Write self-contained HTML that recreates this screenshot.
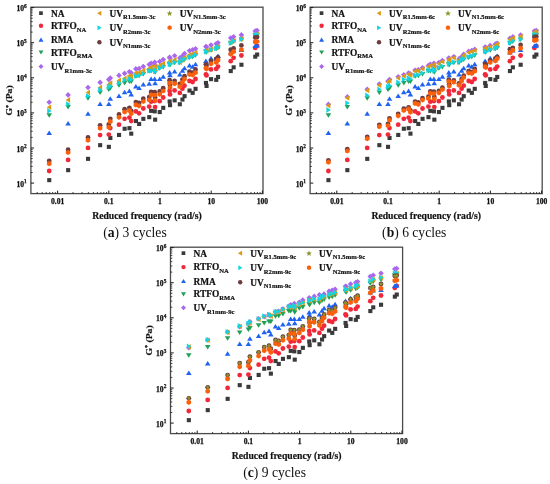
<!DOCTYPE html>
<html><head><meta charset="utf-8"><style>
html,body{margin:0;padding:0;background:#fff;}
svg{display:block;filter:blur(0.2px);}
text{font-family:"Liberation Serif",serif;fill:#111;}
.tl{font-size:7.6px;font-weight:bold;stroke:#111;stroke-width:0.25px;}
.sup{font-size:5.3px;}
.sup2{font-size:6px;}
.al{font-size:9.7px;font-weight:bold;stroke:#111;stroke-width:0.2px;}
.lg{font-size:9.4px;font-weight:bold;stroke:#111;stroke-width:0.2px;}
.sub{font-size:6.6px;}
.cap{font-size:13.6px;}
</style></head><body>
<svg width="550" height="484" viewBox="0 0 550 484">
<rect width="550" height="484" fill="#fff"/>
<g transform="translate(0,0)">
<rect x="30.9" y="7.2" width="232.1" height="186.4" fill="none" stroke="#4a4a4a" stroke-width="1.3"/>
<line x1="30.9" y1="183.1" x2="34.1" y2="183.1" stroke="#1a1a1a" stroke-width="1"/>
<line x1="30.9" y1="172.5" x2="32.7" y2="172.5" stroke="#1a1a1a" stroke-width="0.8"/>
<line x1="30.9" y1="166.4" x2="32.7" y2="166.4" stroke="#1a1a1a" stroke-width="0.8"/>
<line x1="30.9" y1="162.0" x2="32.7" y2="162.0" stroke="#1a1a1a" stroke-width="0.8"/>
<line x1="30.9" y1="158.6" x2="32.7" y2="158.6" stroke="#1a1a1a" stroke-width="0.8"/>
<line x1="30.9" y1="155.8" x2="32.7" y2="155.8" stroke="#1a1a1a" stroke-width="0.8"/>
<line x1="30.9" y1="153.4" x2="32.7" y2="153.4" stroke="#1a1a1a" stroke-width="0.8"/>
<line x1="30.9" y1="151.4" x2="32.7" y2="151.4" stroke="#1a1a1a" stroke-width="0.8"/>
<line x1="30.9" y1="149.6" x2="32.7" y2="149.6" stroke="#1a1a1a" stroke-width="0.8"/>
<text x="26.7" y="186.6" text-anchor="end" class="tl">10<tspan dy="-3.3" class="sup">1</tspan></text>
<line x1="30.9" y1="148.0" x2="34.1" y2="148.0" stroke="#1a1a1a" stroke-width="1"/>
<line x1="30.9" y1="137.4" x2="32.7" y2="137.4" stroke="#1a1a1a" stroke-width="0.8"/>
<line x1="30.9" y1="131.3" x2="32.7" y2="131.3" stroke="#1a1a1a" stroke-width="0.8"/>
<line x1="30.9" y1="126.9" x2="32.7" y2="126.9" stroke="#1a1a1a" stroke-width="0.8"/>
<line x1="30.9" y1="123.5" x2="32.7" y2="123.5" stroke="#1a1a1a" stroke-width="0.8"/>
<line x1="30.9" y1="120.7" x2="32.7" y2="120.7" stroke="#1a1a1a" stroke-width="0.8"/>
<line x1="30.9" y1="118.3" x2="32.7" y2="118.3" stroke="#1a1a1a" stroke-width="0.8"/>
<line x1="30.9" y1="116.3" x2="32.7" y2="116.3" stroke="#1a1a1a" stroke-width="0.8"/>
<line x1="30.9" y1="114.5" x2="32.7" y2="114.5" stroke="#1a1a1a" stroke-width="0.8"/>
<text x="26.7" y="151.5" text-anchor="end" class="tl">10<tspan dy="-3.3" class="sup">2</tspan></text>
<line x1="30.9" y1="112.9" x2="34.1" y2="112.9" stroke="#1a1a1a" stroke-width="1"/>
<line x1="30.9" y1="102.3" x2="32.7" y2="102.3" stroke="#1a1a1a" stroke-width="0.8"/>
<line x1="30.9" y1="96.2" x2="32.7" y2="96.2" stroke="#1a1a1a" stroke-width="0.8"/>
<line x1="30.9" y1="91.8" x2="32.7" y2="91.8" stroke="#1a1a1a" stroke-width="0.8"/>
<line x1="30.9" y1="88.4" x2="32.7" y2="88.4" stroke="#1a1a1a" stroke-width="0.8"/>
<line x1="30.9" y1="85.6" x2="32.7" y2="85.6" stroke="#1a1a1a" stroke-width="0.8"/>
<line x1="30.9" y1="83.2" x2="32.7" y2="83.2" stroke="#1a1a1a" stroke-width="0.8"/>
<line x1="30.9" y1="81.2" x2="32.7" y2="81.2" stroke="#1a1a1a" stroke-width="0.8"/>
<line x1="30.9" y1="79.4" x2="32.7" y2="79.4" stroke="#1a1a1a" stroke-width="0.8"/>
<text x="26.7" y="116.4" text-anchor="end" class="tl">10<tspan dy="-3.3" class="sup">3</tspan></text>
<line x1="30.9" y1="77.8" x2="34.1" y2="77.8" stroke="#1a1a1a" stroke-width="1"/>
<line x1="30.9" y1="67.2" x2="32.7" y2="67.2" stroke="#1a1a1a" stroke-width="0.8"/>
<line x1="30.9" y1="61.1" x2="32.7" y2="61.1" stroke="#1a1a1a" stroke-width="0.8"/>
<line x1="30.9" y1="56.7" x2="32.7" y2="56.7" stroke="#1a1a1a" stroke-width="0.8"/>
<line x1="30.9" y1="53.3" x2="32.7" y2="53.3" stroke="#1a1a1a" stroke-width="0.8"/>
<line x1="30.9" y1="50.5" x2="32.7" y2="50.5" stroke="#1a1a1a" stroke-width="0.8"/>
<line x1="30.9" y1="48.1" x2="32.7" y2="48.1" stroke="#1a1a1a" stroke-width="0.8"/>
<line x1="30.9" y1="46.1" x2="32.7" y2="46.1" stroke="#1a1a1a" stroke-width="0.8"/>
<line x1="30.9" y1="44.3" x2="32.7" y2="44.3" stroke="#1a1a1a" stroke-width="0.8"/>
<text x="26.7" y="81.3" text-anchor="end" class="tl">10<tspan dy="-3.3" class="sup">4</tspan></text>
<line x1="30.9" y1="42.7" x2="34.1" y2="42.7" stroke="#1a1a1a" stroke-width="1"/>
<line x1="30.9" y1="32.1" x2="32.7" y2="32.1" stroke="#1a1a1a" stroke-width="0.8"/>
<line x1="30.9" y1="26.0" x2="32.7" y2="26.0" stroke="#1a1a1a" stroke-width="0.8"/>
<line x1="30.9" y1="21.6" x2="32.7" y2="21.6" stroke="#1a1a1a" stroke-width="0.8"/>
<line x1="30.9" y1="18.2" x2="32.7" y2="18.2" stroke="#1a1a1a" stroke-width="0.8"/>
<line x1="30.9" y1="15.4" x2="32.7" y2="15.4" stroke="#1a1a1a" stroke-width="0.8"/>
<line x1="30.9" y1="13.0" x2="32.7" y2="13.0" stroke="#1a1a1a" stroke-width="0.8"/>
<line x1="30.9" y1="11.0" x2="32.7" y2="11.0" stroke="#1a1a1a" stroke-width="0.8"/>
<line x1="30.9" y1="9.2" x2="32.7" y2="9.2" stroke="#1a1a1a" stroke-width="0.8"/>
<text x="26.7" y="46.2" text-anchor="end" class="tl">10<tspan dy="-3.3" class="sup">5</tspan></text>
<line x1="30.9" y1="7.6" x2="34.1" y2="7.6" stroke="#1a1a1a" stroke-width="1"/>
<text x="26.7" y="11.1" text-anchor="end" class="tl">10<tspan dy="-3.3" class="sup">6</tspan></text>
<line x1="37.2" y1="193.6" x2="37.2" y2="192.0" stroke="#1a1a1a" stroke-width="0.8"/>
<line x1="42.2" y1="193.6" x2="42.2" y2="192.0" stroke="#1a1a1a" stroke-width="0.8"/>
<line x1="46.2" y1="193.6" x2="46.2" y2="192.0" stroke="#1a1a1a" stroke-width="0.8"/>
<line x1="49.7" y1="193.6" x2="49.7" y2="192.0" stroke="#1a1a1a" stroke-width="0.8"/>
<line x1="52.6" y1="193.6" x2="52.6" y2="192.0" stroke="#1a1a1a" stroke-width="0.8"/>
<line x1="55.3" y1="193.6" x2="55.3" y2="192.0" stroke="#1a1a1a" stroke-width="0.8"/>
<line x1="57.6" y1="193.6" x2="57.6" y2="190.6" stroke="#1a1a1a" stroke-width="1"/>
<line x1="73.0" y1="193.6" x2="73.0" y2="192.0" stroke="#1a1a1a" stroke-width="0.8"/>
<line x1="82.0" y1="193.6" x2="82.0" y2="192.0" stroke="#1a1a1a" stroke-width="0.8"/>
<line x1="88.4" y1="193.6" x2="88.4" y2="192.0" stroke="#1a1a1a" stroke-width="0.8"/>
<line x1="93.4" y1="193.6" x2="93.4" y2="192.0" stroke="#1a1a1a" stroke-width="0.8"/>
<line x1="97.4" y1="193.6" x2="97.4" y2="192.0" stroke="#1a1a1a" stroke-width="0.8"/>
<line x1="100.9" y1="193.6" x2="100.9" y2="192.0" stroke="#1a1a1a" stroke-width="0.8"/>
<line x1="103.8" y1="193.6" x2="103.8" y2="192.0" stroke="#1a1a1a" stroke-width="0.8"/>
<line x1="106.5" y1="193.6" x2="106.5" y2="192.0" stroke="#1a1a1a" stroke-width="0.8"/>
<line x1="108.8" y1="193.6" x2="108.8" y2="190.6" stroke="#1a1a1a" stroke-width="1"/>
<line x1="124.2" y1="193.6" x2="124.2" y2="192.0" stroke="#1a1a1a" stroke-width="0.8"/>
<line x1="133.2" y1="193.6" x2="133.2" y2="192.0" stroke="#1a1a1a" stroke-width="0.8"/>
<line x1="139.6" y1="193.6" x2="139.6" y2="192.0" stroke="#1a1a1a" stroke-width="0.8"/>
<line x1="144.6" y1="193.6" x2="144.6" y2="192.0" stroke="#1a1a1a" stroke-width="0.8"/>
<line x1="148.6" y1="193.6" x2="148.6" y2="192.0" stroke="#1a1a1a" stroke-width="0.8"/>
<line x1="152.1" y1="193.6" x2="152.1" y2="192.0" stroke="#1a1a1a" stroke-width="0.8"/>
<line x1="155.0" y1="193.6" x2="155.0" y2="192.0" stroke="#1a1a1a" stroke-width="0.8"/>
<line x1="157.7" y1="193.6" x2="157.7" y2="192.0" stroke="#1a1a1a" stroke-width="0.8"/>
<line x1="160.0" y1="193.6" x2="160.0" y2="190.6" stroke="#1a1a1a" stroke-width="1"/>
<line x1="175.4" y1="193.6" x2="175.4" y2="192.0" stroke="#1a1a1a" stroke-width="0.8"/>
<line x1="184.4" y1="193.6" x2="184.4" y2="192.0" stroke="#1a1a1a" stroke-width="0.8"/>
<line x1="190.8" y1="193.6" x2="190.8" y2="192.0" stroke="#1a1a1a" stroke-width="0.8"/>
<line x1="195.8" y1="193.6" x2="195.8" y2="192.0" stroke="#1a1a1a" stroke-width="0.8"/>
<line x1="199.8" y1="193.6" x2="199.8" y2="192.0" stroke="#1a1a1a" stroke-width="0.8"/>
<line x1="203.3" y1="193.6" x2="203.3" y2="192.0" stroke="#1a1a1a" stroke-width="0.8"/>
<line x1="206.2" y1="193.6" x2="206.2" y2="192.0" stroke="#1a1a1a" stroke-width="0.8"/>
<line x1="208.9" y1="193.6" x2="208.9" y2="192.0" stroke="#1a1a1a" stroke-width="0.8"/>
<line x1="211.2" y1="193.6" x2="211.2" y2="190.6" stroke="#1a1a1a" stroke-width="1"/>
<line x1="226.6" y1="193.6" x2="226.6" y2="192.0" stroke="#1a1a1a" stroke-width="0.8"/>
<line x1="235.6" y1="193.6" x2="235.6" y2="192.0" stroke="#1a1a1a" stroke-width="0.8"/>
<line x1="242.0" y1="193.6" x2="242.0" y2="192.0" stroke="#1a1a1a" stroke-width="0.8"/>
<line x1="247.0" y1="193.6" x2="247.0" y2="192.0" stroke="#1a1a1a" stroke-width="0.8"/>
<line x1="251.0" y1="193.6" x2="251.0" y2="192.0" stroke="#1a1a1a" stroke-width="0.8"/>
<line x1="254.5" y1="193.6" x2="254.5" y2="192.0" stroke="#1a1a1a" stroke-width="0.8"/>
<line x1="257.4" y1="193.6" x2="257.4" y2="192.0" stroke="#1a1a1a" stroke-width="0.8"/>
<line x1="260.1" y1="193.6" x2="260.1" y2="192.0" stroke="#1a1a1a" stroke-width="0.8"/>
<line x1="262.4" y1="193.6" x2="262.4" y2="190.6" stroke="#1a1a1a" stroke-width="1"/>
<text x="57.6" y="204.2" text-anchor="middle" class="tl">0.01</text>
<text x="108.8" y="204.2" text-anchor="middle" class="tl">0.1</text>
<text x="160.0" y="204.2" text-anchor="middle" class="tl">1</text>
<text x="211.2" y="204.2" text-anchor="middle" class="tl">10</text>
<text x="262.4" y="204.2" text-anchor="middle" class="tl">100</text>
<text x="147" y="219.0" text-anchor="middle" class="al">Reduced frequency (rad/s)</text>
<text transform="translate(12.3,100.4) rotate(-90) scale(1,0.84)" text-anchor="middle" class="al">G<tspan dy="-3.2" class="sup2">*</tspan><tspan dy="3.2"> (Pa)</tspan></text>
<rect x="47.2" y="178.1" width="4.1" height="4.1" fill="#3a3a3a"/>
<rect x="66.1" y="168.1" width="4.1" height="4.1" fill="#3a3a3a"/>
<rect x="86.0" y="156.8" width="4.1" height="4.1" fill="#3a3a3a"/>
<rect x="98.1" y="143.1" width="4.1" height="4.1" fill="#3a3a3a"/>
<rect x="106.8" y="144.8" width="4.1" height="4.1" fill="#3a3a3a"/>
<rect x="108.3" y="135.9" width="4.1" height="4.1" fill="#3a3a3a"/>
<rect x="117.0" y="132.9" width="4.1" height="4.1" fill="#3a3a3a"/>
<rect x="122.6" y="126.7" width="4.1" height="4.1" fill="#3a3a3a"/>
<rect x="127.4" y="126.1" width="4.1" height="4.1" fill="#3a3a3a"/>
<rect x="129.2" y="131.6" width="4.1" height="4.1" fill="#3a3a3a"/>
<rect x="133.9" y="119.0" width="4.1" height="4.1" fill="#3a3a3a"/>
<rect x="137.1" y="121.9" width="4.1" height="4.1" fill="#3a3a3a"/>
<rect x="141.3" y="116.8" width="4.1" height="4.1" fill="#3a3a3a"/>
<rect x="147.2" y="115.1" width="4.1" height="4.1" fill="#3a3a3a"/>
<rect x="149.1" y="108.8" width="4.1" height="4.1" fill="#3a3a3a"/>
<rect x="152.7" y="109.3" width="4.1" height="4.1" fill="#3a3a3a"/>
<rect x="153.1" y="117.6" width="4.1" height="4.1" fill="#3a3a3a"/>
<rect x="157.7" y="110.0" width="4.1" height="4.1" fill="#3a3a3a"/>
<rect x="161.2" y="105.8" width="4.1" height="4.1" fill="#3a3a3a"/>
<rect x="167.6" y="99.4" width="4.1" height="4.1" fill="#3a3a3a"/>
<rect x="168.0" y="103.1" width="4.1" height="4.1" fill="#3a3a3a"/>
<rect x="172.6" y="98.3" width="4.1" height="4.1" fill="#3a3a3a"/>
<rect x="177.8" y="102.2" width="4.1" height="4.1" fill="#3a3a3a"/>
<rect x="180.4" y="97.5" width="4.1" height="4.1" fill="#3a3a3a"/>
<rect x="182.5" y="94.1" width="4.1" height="4.1" fill="#3a3a3a"/>
<rect x="187.5" y="88.5" width="4.1" height="4.1" fill="#3a3a3a"/>
<rect x="190.6" y="90.8" width="4.1" height="4.1" fill="#3a3a3a"/>
<rect x="193.5" y="86.8" width="4.1" height="4.1" fill="#3a3a3a"/>
<rect x="203.9" y="80.9" width="4.1" height="4.1" fill="#3a3a3a"/>
<rect x="204.5" y="83.9" width="4.1" height="4.1" fill="#3a3a3a"/>
<rect x="209.0" y="77.1" width="4.1" height="4.1" fill="#3a3a3a"/>
<rect x="214.2" y="77.8" width="4.1" height="4.1" fill="#3a3a3a"/>
<rect x="216.0" y="74.9" width="4.1" height="4.1" fill="#3a3a3a"/>
<rect x="228.7" y="69.0" width="4.1" height="4.1" fill="#3a3a3a"/>
<rect x="231.6" y="65.3" width="4.1" height="4.1" fill="#3a3a3a"/>
<rect x="239.4" y="62.7" width="4.1" height="4.1" fill="#3a3a3a"/>
<rect x="253.2" y="54.6" width="4.1" height="4.1" fill="#3a3a3a"/>
<rect x="255.1" y="52.5" width="4.1" height="4.1" fill="#3a3a3a"/>
<circle cx="49.2" cy="171.0" r="2.4" fill="#f0283a"/>
<circle cx="68.1" cy="159.9" r="2.4" fill="#f0283a"/>
<circle cx="88.0" cy="147.9" r="2.4" fill="#f0283a"/>
<circle cx="100.1" cy="135.1" r="2.4" fill="#f0283a"/>
<circle cx="108.8" cy="134.6" r="2.4" fill="#f0283a"/>
<circle cx="110.3" cy="128.1" r="2.4" fill="#f0283a"/>
<circle cx="119.0" cy="124.7" r="2.4" fill="#f0283a"/>
<circle cx="124.6" cy="118.8" r="2.4" fill="#f0283a"/>
<circle cx="129.4" cy="117.6" r="2.4" fill="#f0283a"/>
<circle cx="131.2" cy="121.1" r="2.4" fill="#f0283a"/>
<circle cx="135.9" cy="111.4" r="2.4" fill="#f0283a"/>
<circle cx="139.1" cy="113.3" r="2.4" fill="#f0283a"/>
<circle cx="143.3" cy="108.5" r="2.4" fill="#f0283a"/>
<circle cx="149.2" cy="106.6" r="2.4" fill="#f0283a"/>
<circle cx="151.1" cy="101.7" r="2.4" fill="#f0283a"/>
<circle cx="154.7" cy="101.1" r="2.4" fill="#f0283a"/>
<circle cx="155.1" cy="107.1" r="2.4" fill="#f0283a"/>
<circle cx="159.7" cy="101.2" r="2.4" fill="#f0283a"/>
<circle cx="163.2" cy="97.5" r="2.4" fill="#f0283a"/>
<circle cx="169.6" cy="91.0" r="2.4" fill="#f0283a"/>
<circle cx="170.0" cy="94.4" r="2.4" fill="#f0283a"/>
<circle cx="174.6" cy="90.4" r="2.4" fill="#f0283a"/>
<circle cx="179.8" cy="92.9" r="2.4" fill="#f0283a"/>
<circle cx="182.4" cy="88.7" r="2.4" fill="#f0283a"/>
<circle cx="184.5" cy="85.7" r="2.4" fill="#f0283a"/>
<circle cx="189.5" cy="81.0" r="2.4" fill="#f0283a"/>
<circle cx="192.6" cy="82.0" r="2.4" fill="#f0283a"/>
<circle cx="195.5" cy="79.0" r="2.4" fill="#f0283a"/>
<circle cx="205.9" cy="74.3" r="2.4" fill="#f0283a"/>
<circle cx="206.5" cy="75.4" r="2.4" fill="#f0283a"/>
<circle cx="211.0" cy="69.4" r="2.4" fill="#f0283a"/>
<circle cx="216.2" cy="68.9" r="2.4" fill="#f0283a"/>
<circle cx="218.0" cy="66.6" r="2.4" fill="#f0283a"/>
<circle cx="230.7" cy="61.2" r="2.4" fill="#f0283a"/>
<circle cx="233.6" cy="57.8" r="2.4" fill="#f0283a"/>
<circle cx="241.4" cy="55.5" r="2.4" fill="#f0283a"/>
<circle cx="255.2" cy="47.9" r="2.4" fill="#f0283a"/>
<circle cx="257.1" cy="45.8" r="2.4" fill="#f0283a"/>
<path d="M49.2 130.6L52.0 135.1L46.4 135.1Z" fill="#1f63f0"/>
<path d="M68.1 121.1L70.9 125.6L65.3 125.6Z" fill="#1f63f0"/>
<path d="M88.0 111.3L90.8 115.8L85.2 115.8Z" fill="#1f63f0"/>
<path d="M100.1 101.6L102.9 106.1L97.3 106.1Z" fill="#1f63f0"/>
<path d="M108.8 101.6L111.6 106.1L106.0 106.1Z" fill="#1f63f0"/>
<path d="M110.3 96.2L113.1 100.7L107.5 100.7Z" fill="#1f63f0"/>
<path d="M119.0 93.5L121.8 98.0L116.2 98.0Z" fill="#1f63f0"/>
<path d="M124.6 89.7L127.4 94.2L121.8 94.2Z" fill="#1f63f0"/>
<path d="M129.4 88.4L132.2 92.9L126.6 92.9Z" fill="#1f63f0"/>
<path d="M131.2 92.0L134.0 96.5L128.4 96.5Z" fill="#1f63f0"/>
<path d="M135.9 84.1L138.7 88.6L133.1 88.6Z" fill="#1f63f0"/>
<path d="M139.1 85.5L141.9 90.0L136.3 90.0Z" fill="#1f63f0"/>
<path d="M143.3 82.1L146.1 86.6L140.5 86.6Z" fill="#1f63f0"/>
<path d="M149.2 81.2L152.0 85.7L146.4 85.7Z" fill="#1f63f0"/>
<path d="M151.1 76.5L153.9 81.0L148.3 81.0Z" fill="#1f63f0"/>
<path d="M154.7 76.5L157.5 81.0L151.9 81.0Z" fill="#1f63f0"/>
<path d="M155.1 80.7L157.9 85.2L152.3 85.2Z" fill="#1f63f0"/>
<path d="M159.7 76.5L162.5 81.0L156.9 81.0Z" fill="#1f63f0"/>
<path d="M163.2 74.2L166.0 78.7L160.4 78.7Z" fill="#1f63f0"/>
<path d="M169.6 70.0L172.4 74.5L166.8 74.5Z" fill="#1f63f0"/>
<path d="M170.0 72.8L172.8 77.3L167.2 77.3Z" fill="#1f63f0"/>
<path d="M174.6 69.1L177.4 73.6L171.8 73.6Z" fill="#1f63f0"/>
<path d="M179.8 71.9L182.6 76.4L177.0 76.4Z" fill="#1f63f0"/>
<path d="M182.4 68.2L185.2 72.7L179.6 72.7Z" fill="#1f63f0"/>
<path d="M184.5 65.8L187.3 70.3L181.7 70.3Z" fill="#1f63f0"/>
<path d="M189.5 63.1L192.3 67.6L186.7 67.6Z" fill="#1f63f0"/>
<path d="M192.6 64.3L195.4 68.8L189.8 68.8Z" fill="#1f63f0"/>
<path d="M195.5 61.8L198.3 66.3L192.7 66.3Z" fill="#1f63f0"/>
<path d="M205.9 58.5L208.7 63.0L203.1 63.0Z" fill="#1f63f0"/>
<path d="M206.5 60.0L209.3 64.5L203.7 64.5Z" fill="#1f63f0"/>
<path d="M211.0 55.7L213.8 60.2L208.2 60.2Z" fill="#1f63f0"/>
<path d="M216.2 56.2L219.0 60.8L213.4 60.8Z" fill="#1f63f0"/>
<path d="M218.0 53.4L220.8 57.9L215.2 57.9Z" fill="#1f63f0"/>
<path d="M230.7 50.1L233.5 54.6L227.9 54.6Z" fill="#1f63f0"/>
<path d="M233.6 47.9L236.4 52.4L230.8 52.4Z" fill="#1f63f0"/>
<path d="M241.4 47.5L244.2 52.0L238.6 52.0Z" fill="#1f63f0"/>
<path d="M255.2 43.5L258.0 48.0L252.4 48.0Z" fill="#1f63f0"/>
<path d="M257.1 42.9L259.9 47.4L254.3 47.4Z" fill="#1f63f0"/>
<path d="M49.2 117.8L52.0 113.3L46.4 113.3Z" fill="#20a157"/>
<path d="M68.1 109.4L70.9 104.9L65.3 104.9Z" fill="#20a157"/>
<path d="M88.0 100.7L90.8 96.2L85.2 96.2Z" fill="#20a157"/>
<path d="M100.1 95.1L102.9 90.6L97.3 90.6Z" fill="#20a157"/>
<path d="M108.8 91.9L111.6 87.4L106.0 87.4Z" fill="#20a157"/>
<path d="M110.3 90.5L113.1 86.0L107.5 86.0Z" fill="#20a157"/>
<path d="M119.0 87.7L121.8 83.2L116.2 83.2Z" fill="#20a157"/>
<path d="M124.6 85.4L127.4 80.9L121.8 80.9Z" fill="#20a157"/>
<path d="M129.4 84.0L132.2 79.5L126.6 79.5Z" fill="#20a157"/>
<path d="M131.2 84.0L134.0 79.4L128.4 79.4Z" fill="#20a157"/>
<path d="M135.9 78.8L138.7 74.3L133.1 74.3Z" fill="#20a157"/>
<path d="M139.1 78.3L141.9 73.8L136.3 73.8Z" fill="#20a157"/>
<path d="M143.3 76.4L146.1 71.9L140.5 71.9Z" fill="#20a157"/>
<path d="M149.2 73.6L152.0 69.1L146.4 69.1Z" fill="#20a157"/>
<path d="M151.1 73.6L153.9 69.1L148.3 69.1Z" fill="#20a157"/>
<path d="M154.7 72.6L157.5 68.1L151.9 68.1Z" fill="#20a157"/>
<path d="M155.1 74.8L157.9 70.2L152.3 70.2Z" fill="#20a157"/>
<path d="M159.7 70.8L162.5 66.3L156.9 66.3Z" fill="#20a157"/>
<path d="M163.2 69.4L166.0 64.9L160.4 64.9Z" fill="#20a157"/>
<path d="M169.6 66.6L172.4 62.1L166.8 62.1Z" fill="#20a157"/>
<path d="M170.0 67.4L172.8 62.9L167.2 62.9Z" fill="#20a157"/>
<path d="M174.6 65.2L177.4 60.7L171.8 60.7Z" fill="#20a157"/>
<path d="M179.8 65.2L182.6 60.7L177.0 60.7Z" fill="#20a157"/>
<path d="M182.4 62.9L185.2 58.4L179.6 58.4Z" fill="#20a157"/>
<path d="M184.5 61.9L187.3 57.4L181.7 57.4Z" fill="#20a157"/>
<path d="M189.5 60.1L192.3 55.6L186.7 55.6Z" fill="#20a157"/>
<path d="M192.6 59.2L195.4 54.7L189.8 54.7Z" fill="#20a157"/>
<path d="M195.5 57.8L198.3 53.3L192.7 53.3Z" fill="#20a157"/>
<path d="M205.9 54.1L208.7 49.6L203.1 49.6Z" fill="#20a157"/>
<path d="M206.5 54.8L209.3 50.2L203.7 50.2Z" fill="#20a157"/>
<path d="M211.0 52.7L213.8 48.2L208.2 48.2Z" fill="#20a157"/>
<path d="M216.2 51.2L219.0 46.7L213.4 46.7Z" fill="#20a157"/>
<path d="M218.0 50.3L220.8 45.8L215.2 45.8Z" fill="#20a157"/>
<path d="M230.7 45.8L233.5 41.3L227.9 41.3Z" fill="#20a157"/>
<path d="M233.6 44.0L236.4 39.5L230.8 39.5Z" fill="#20a157"/>
<path d="M241.4 42.1L244.2 37.6L238.6 37.6Z" fill="#20a157"/>
<path d="M255.2 37.7L258.0 33.2L252.4 33.2Z" fill="#20a157"/>
<path d="M257.1 37.2L259.9 32.7L254.3 32.7Z" fill="#20a157"/>
<path d="M49.2 99.4L52.0 102.2L49.2 105.0L46.4 102.2Z" fill="#a968ec"/>
<path d="M68.1 92.1L70.9 94.9L68.1 97.7L65.3 94.9Z" fill="#a968ec"/>
<path d="M88.0 84.7L90.8 87.5L88.0 90.3L85.2 87.5Z" fill="#a968ec"/>
<path d="M100.1 79.6L102.9 82.4L100.1 85.2L97.3 82.4Z" fill="#a968ec"/>
<path d="M108.8 76.8L111.6 79.6L108.8 82.4L106.0 79.6Z" fill="#a968ec"/>
<path d="M110.3 75.2L113.1 78.0L110.3 80.8L107.5 78.0Z" fill="#a968ec"/>
<path d="M119.0 72.6L121.8 75.4L119.0 78.2L116.2 75.4Z" fill="#a968ec"/>
<path d="M124.6 70.6L127.4 73.4L124.6 76.2L121.8 73.4Z" fill="#a968ec"/>
<path d="M129.4 68.9L132.2 71.7L129.4 74.5L126.6 71.7Z" fill="#a968ec"/>
<path d="M131.2 69.9L134.0 72.7L131.2 75.5L128.4 72.7Z" fill="#a968ec"/>
<path d="M135.9 66.1L138.7 68.9L135.9 71.7L133.1 68.9Z" fill="#a968ec"/>
<path d="M139.1 65.7L141.9 68.5L139.1 71.3L136.3 68.5Z" fill="#a968ec"/>
<path d="M143.3 63.7L146.1 66.5L143.3 69.3L140.5 66.5Z" fill="#a968ec"/>
<path d="M149.2 61.7L152.0 64.5L149.2 67.3L146.4 64.5Z" fill="#a968ec"/>
<path d="M151.1 60.4L153.9 63.2L151.1 66.0L148.3 63.2Z" fill="#a968ec"/>
<path d="M154.7 59.5L157.5 62.3L154.7 65.1L151.9 62.3Z" fill="#a968ec"/>
<path d="M155.1 62.2L157.9 64.9L155.1 67.7L152.3 64.9Z" fill="#a968ec"/>
<path d="M159.7 58.8L162.5 61.6L159.7 64.4L156.9 61.6Z" fill="#a968ec"/>
<path d="M163.2 56.7L166.0 59.5L163.2 62.3L160.4 59.5Z" fill="#a968ec"/>
<path d="M169.6 54.4L172.4 57.2L169.6 60.0L166.8 57.2Z" fill="#a968ec"/>
<path d="M170.0 55.5L172.8 58.2L170.0 61.0L167.2 58.2Z" fill="#a968ec"/>
<path d="M174.6 53.0L177.4 55.8L174.6 58.6L171.8 55.8Z" fill="#a968ec"/>
<path d="M179.8 55.3L182.6 58.1L179.8 60.9L177.0 58.1Z" fill="#a968ec"/>
<path d="M182.4 53.2L185.2 56.0L182.4 58.8L179.6 56.0Z" fill="#a968ec"/>
<path d="M184.5 50.7L187.3 53.5L184.5 56.3L181.7 53.5Z" fill="#a968ec"/>
<path d="M189.5 47.9L192.3 50.7L189.5 53.5L186.7 50.7Z" fill="#a968ec"/>
<path d="M192.6 47.0L195.4 49.8L192.6 52.6L189.8 49.8Z" fill="#a968ec"/>
<path d="M195.5 46.0L198.3 48.8L195.5 51.6L192.7 48.8Z" fill="#a968ec"/>
<path d="M205.9 43.7L208.7 46.5L205.9 49.3L203.1 46.5Z" fill="#a968ec"/>
<path d="M206.5 44.2L209.3 47.0L206.5 49.7L203.7 47.0Z" fill="#a968ec"/>
<path d="M211.0 42.3L213.8 45.1L211.0 47.9L208.2 45.1Z" fill="#a968ec"/>
<path d="M216.2 40.9L219.0 43.7L216.2 46.4L213.4 43.7Z" fill="#a968ec"/>
<path d="M218.0 40.0L220.8 42.8L218.0 45.6L215.2 42.8Z" fill="#a968ec"/>
<path d="M230.7 35.2L233.5 38.0L230.7 40.8L227.9 38.0Z" fill="#a968ec"/>
<path d="M233.6 33.9L236.4 36.7L233.6 39.5L230.8 36.7Z" fill="#a968ec"/>
<path d="M241.4 32.1L244.2 34.9L241.4 37.7L238.6 34.9Z" fill="#a968ec"/>
<path d="M255.2 28.2L258.0 31.0L255.2 33.8L252.4 31.0Z" fill="#a968ec"/>
<path d="M257.1 27.7L259.9 30.5L257.1 33.3L254.3 30.5Z" fill="#a968ec"/>
<path d="M46.7 107.2L51.2 104.4L51.2 110.0Z" fill="#dc9a14"/>
<path d="M65.6 99.9L70.1 97.1L70.1 102.7Z" fill="#dc9a14"/>
<path d="M85.5 92.5L90.0 89.7L90.0 95.3Z" fill="#dc9a14"/>
<path d="M97.6 87.4L102.1 84.6L102.1 90.2Z" fill="#dc9a14"/>
<path d="M106.3 84.6L110.8 81.8L110.8 87.4Z" fill="#dc9a14"/>
<path d="M107.8 83.0L112.3 80.2L112.3 85.8Z" fill="#dc9a14"/>
<path d="M116.5 80.4L121.0 77.6L121.0 83.2Z" fill="#dc9a14"/>
<path d="M122.1 78.4L126.6 75.6L126.6 81.2Z" fill="#dc9a14"/>
<path d="M126.9 75.7L131.4 72.9L131.4 78.5Z" fill="#dc9a14"/>
<path d="M128.7 76.7L133.2 73.9L133.2 79.5Z" fill="#dc9a14"/>
<path d="M133.4 72.9L137.9 70.1L137.9 75.7Z" fill="#dc9a14"/>
<path d="M136.6 72.5L141.1 69.7L141.1 75.3Z" fill="#dc9a14"/>
<path d="M140.8 70.5L145.3 67.7L145.3 73.3Z" fill="#dc9a14"/>
<path d="M146.7 68.5L151.2 65.7L151.2 71.3Z" fill="#dc9a14"/>
<path d="M148.6 67.2L153.1 64.4L153.1 70.0Z" fill="#dc9a14"/>
<path d="M152.2 66.3L156.7 63.5L156.7 69.1Z" fill="#dc9a14"/>
<path d="M152.6 69.1L157.1 66.3L157.1 71.8Z" fill="#dc9a14"/>
<path d="M157.2 65.6L161.7 62.8L161.7 68.4Z" fill="#dc9a14"/>
<path d="M160.7 63.5L165.2 60.7L165.2 66.3Z" fill="#dc9a14"/>
<path d="M167.1 61.2L171.6 58.4L171.6 64.0Z" fill="#dc9a14"/>
<path d="M167.5 62.3L172.0 59.5L172.0 65.0Z" fill="#dc9a14"/>
<path d="M172.1 59.8L176.6 57.0L176.6 62.6Z" fill="#dc9a14"/>
<path d="M177.3 62.1L181.8 59.3L181.8 64.9Z" fill="#dc9a14"/>
<path d="M179.9 60.0L184.4 57.2L184.4 62.8Z" fill="#dc9a14"/>
<path d="M182.0 57.5L186.5 54.7L186.5 60.3Z" fill="#dc9a14"/>
<path d="M187.0 54.7L191.5 51.9L191.5 57.5Z" fill="#dc9a14"/>
<path d="M190.1 53.8L194.6 51.0L194.6 56.6Z" fill="#dc9a14"/>
<path d="M193.0 52.8L197.5 50.0L197.5 55.6Z" fill="#dc9a14"/>
<path d="M203.4 50.5L207.9 47.7L207.9 53.3Z" fill="#dc9a14"/>
<path d="M204.0 50.8L208.5 48.1L208.5 53.6Z" fill="#dc9a14"/>
<path d="M208.5 49.1L213.0 46.3L213.0 51.9Z" fill="#dc9a14"/>
<path d="M213.7 47.5L218.2 44.8L218.2 50.3Z" fill="#dc9a14"/>
<path d="M215.5 46.8L220.0 44.0L220.0 49.6Z" fill="#dc9a14"/>
<path d="M228.2 42.0L232.7 39.2L232.7 44.8Z" fill="#dc9a14"/>
<path d="M231.1 40.7L235.6 37.9L235.6 43.5Z" fill="#dc9a14"/>
<path d="M238.9 38.9L243.4 36.1L243.4 41.7Z" fill="#dc9a14"/>
<path d="M252.7 35.0L257.2 32.2L257.2 37.8Z" fill="#dc9a14"/>
<path d="M254.6 34.5L259.1 31.7L259.1 37.3Z" fill="#dc9a14"/>
<path d="M51.7 110.9L47.2 108.1L47.2 113.7Z" fill="#14d4e2"/>
<path d="M70.6 104.0L66.1 101.2L66.1 106.8Z" fill="#14d4e2"/>
<path d="M90.5 96.0L86.0 93.2L86.0 98.8Z" fill="#14d4e2"/>
<path d="M102.6 89.9L98.1 87.1L98.1 92.7Z" fill="#14d4e2"/>
<path d="M111.3 87.5L106.8 84.7L106.8 90.3Z" fill="#14d4e2"/>
<path d="M112.8 86.1L108.3 83.3L108.3 88.9Z" fill="#14d4e2"/>
<path d="M121.5 82.9L117.0 80.1L117.0 85.7Z" fill="#14d4e2"/>
<path d="M127.1 80.1L122.6 77.3L122.6 82.9Z" fill="#14d4e2"/>
<path d="M131.9 78.7L127.4 75.9L127.4 81.5Z" fill="#14d4e2"/>
<path d="M133.7 79.6L129.2 76.8L129.2 82.4Z" fill="#14d4e2"/>
<path d="M138.4 75.9L133.9 73.1L133.9 78.7Z" fill="#14d4e2"/>
<path d="M141.6 75.4L137.1 72.6L137.1 78.2Z" fill="#14d4e2"/>
<path d="M145.8 73.5L141.3 70.7L141.3 76.3Z" fill="#14d4e2"/>
<path d="M151.7 70.7L147.2 67.9L147.2 73.5Z" fill="#14d4e2"/>
<path d="M153.6 70.7L149.1 67.9L149.1 73.5Z" fill="#14d4e2"/>
<path d="M157.2 69.7L152.7 66.9L152.7 72.5Z" fill="#14d4e2"/>
<path d="M157.6 71.5L153.1 68.7L153.1 74.2Z" fill="#14d4e2"/>
<path d="M162.2 67.9L157.7 65.1L157.7 70.7Z" fill="#14d4e2"/>
<path d="M165.7 66.5L161.2 63.7L161.2 69.3Z" fill="#14d4e2"/>
<path d="M172.1 63.7L167.6 60.9L167.6 66.5Z" fill="#14d4e2"/>
<path d="M172.5 64.4L168.0 61.6L168.0 67.1Z" fill="#14d4e2"/>
<path d="M177.1 62.3L172.6 59.5L172.6 65.1Z" fill="#14d4e2"/>
<path d="M182.3 62.3L177.8 59.5L177.8 65.1Z" fill="#14d4e2"/>
<path d="M184.9 60.0L180.4 57.2L180.4 62.8Z" fill="#14d4e2"/>
<path d="M187.0 59.1L182.5 56.3L182.5 61.8Z" fill="#14d4e2"/>
<path d="M192.0 57.2L187.5 54.4L187.5 60.0Z" fill="#14d4e2"/>
<path d="M195.1 56.3L190.6 53.5L190.6 59.1Z" fill="#14d4e2"/>
<path d="M198.0 54.9L193.5 52.1L193.5 57.7Z" fill="#14d4e2"/>
<path d="M208.4 51.2L203.9 48.4L203.9 54.0Z" fill="#14d4e2"/>
<path d="M209.0 52.1L204.5 49.3L204.5 54.8Z" fill="#14d4e2"/>
<path d="M213.5 49.8L209.0 47.0L209.0 52.6Z" fill="#14d4e2"/>
<path d="M218.7 48.5L214.2 45.8L214.2 51.3Z" fill="#14d4e2"/>
<path d="M220.5 47.4L216.0 44.6L216.0 50.2Z" fill="#14d4e2"/>
<path d="M233.2 42.9L228.7 40.1L228.7 45.7Z" fill="#14d4e2"/>
<path d="M236.1 41.1L231.6 38.3L231.6 43.9Z" fill="#14d4e2"/>
<path d="M243.9 39.2L239.4 36.4L239.4 42.0Z" fill="#14d4e2"/>
<path d="M257.7 34.8L253.2 32.0L253.2 37.6Z" fill="#14d4e2"/>
<path d="M259.6 34.3L255.1 31.5L255.1 37.1Z" fill="#14d4e2"/>
<circle cx="49.2" cy="160.8" r="2.4" fill="#6e3c3e"/>
<circle cx="68.1" cy="149.7" r="2.4" fill="#6e3c3e"/>
<circle cx="88.0" cy="137.4" r="2.4" fill="#6e3c3e"/>
<circle cx="100.1" cy="125.3" r="2.4" fill="#6e3c3e"/>
<circle cx="108.8" cy="124.4" r="2.4" fill="#6e3c3e"/>
<circle cx="110.3" cy="118.8" r="2.4" fill="#6e3c3e"/>
<circle cx="119.0" cy="114.5" r="2.4" fill="#6e3c3e"/>
<circle cx="124.6" cy="109.2" r="2.4" fill="#6e3c3e"/>
<circle cx="129.4" cy="107.8" r="2.4" fill="#6e3c3e"/>
<circle cx="131.2" cy="110.8" r="2.4" fill="#6e3c3e"/>
<circle cx="135.9" cy="102.1" r="2.4" fill="#6e3c3e"/>
<circle cx="139.1" cy="103.0" r="2.4" fill="#6e3c3e"/>
<circle cx="143.3" cy="98.7" r="2.4" fill="#6e3c3e"/>
<circle cx="149.2" cy="97.1" r="2.4" fill="#6e3c3e"/>
<circle cx="151.1" cy="92.0" r="2.4" fill="#6e3c3e"/>
<circle cx="154.7" cy="92.2" r="2.4" fill="#6e3c3e"/>
<circle cx="155.1" cy="97.5" r="2.4" fill="#6e3c3e"/>
<circle cx="159.7" cy="91.5" r="2.4" fill="#6e3c3e"/>
<circle cx="163.2" cy="88.2" r="2.4" fill="#6e3c3e"/>
<circle cx="169.6" cy="80.2" r="2.4" fill="#6e3c3e"/>
<circle cx="170.0" cy="84.7" r="2.4" fill="#6e3c3e"/>
<circle cx="174.6" cy="80.8" r="2.4" fill="#6e3c3e"/>
<circle cx="179.8" cy="83.8" r="2.4" fill="#6e3c3e"/>
<circle cx="182.4" cy="79.6" r="2.4" fill="#6e3c3e"/>
<circle cx="184.5" cy="76.2" r="2.4" fill="#6e3c3e"/>
<circle cx="189.5" cy="71.7" r="2.4" fill="#6e3c3e"/>
<circle cx="192.6" cy="72.7" r="2.4" fill="#6e3c3e"/>
<circle cx="195.5" cy="69.4" r="2.4" fill="#6e3c3e"/>
<circle cx="205.9" cy="64.3" r="2.4" fill="#6e3c3e"/>
<circle cx="206.5" cy="65.8" r="2.4" fill="#6e3c3e"/>
<circle cx="211.0" cy="61.0" r="2.4" fill="#6e3c3e"/>
<circle cx="216.2" cy="58.8" r="2.4" fill="#6e3c3e"/>
<circle cx="218.0" cy="57.4" r="2.4" fill="#6e3c3e"/>
<circle cx="230.7" cy="49.7" r="2.4" fill="#6e3c3e"/>
<circle cx="233.6" cy="48.5" r="2.4" fill="#6e3c3e"/>
<circle cx="241.4" cy="45.4" r="2.4" fill="#6e3c3e"/>
<circle cx="255.2" cy="37.5" r="2.4" fill="#6e3c3e"/>
<circle cx="257.1" cy="37.1" r="2.4" fill="#6e3c3e"/>
<path d="M49.2 161.0L51.5 162.3L51.5 164.9L49.2 166.2L46.9 164.9L46.9 162.3Z" fill="#fa600a"/>
<path d="M68.1 149.9L70.4 151.2L70.4 153.8L68.1 155.1L65.8 153.8L65.8 151.2Z" fill="#fa600a"/>
<path d="M88.0 137.6L90.3 138.9L90.3 141.5L88.0 142.8L85.7 141.5L85.7 138.9Z" fill="#fa600a"/>
<path d="M100.1 125.5L102.4 126.8L102.4 129.4L100.1 130.7L97.8 129.4L97.8 126.8Z" fill="#fa600a"/>
<path d="M108.8 124.6L111.1 125.9L111.1 128.5L108.8 129.8L106.5 128.5L106.5 125.9Z" fill="#fa600a"/>
<path d="M110.3 119.0L112.6 120.3L112.6 122.9L110.3 124.2L108.0 122.9L108.0 120.3Z" fill="#fa600a"/>
<path d="M119.0 114.7L121.3 116.0L121.3 118.6L119.0 119.9L116.7 118.6L116.7 116.0Z" fill="#fa600a"/>
<path d="M124.6 109.4L126.9 110.7L126.9 113.3L124.6 114.6L122.3 113.3L122.3 110.7Z" fill="#fa600a"/>
<path d="M129.4 108.0L131.7 109.3L131.7 111.9L129.4 113.2L127.1 111.9L127.1 109.3Z" fill="#fa600a"/>
<path d="M131.2 111.0L133.5 112.3L133.5 114.9L131.2 116.2L128.9 114.9L128.9 112.3Z" fill="#fa600a"/>
<path d="M135.9 102.3L138.2 103.6L138.2 106.2L135.9 107.5L133.6 106.2L133.6 103.6Z" fill="#fa600a"/>
<path d="M139.1 103.2L141.4 104.5L141.4 107.1L139.1 108.4L136.8 107.1L136.8 104.5Z" fill="#fa600a"/>
<path d="M143.3 98.9L145.6 100.2L145.6 102.8L143.3 104.1L141.0 102.8L141.0 100.2Z" fill="#fa600a"/>
<path d="M149.2 97.3L151.5 98.6L151.5 101.2L149.2 102.5L146.9 101.2L146.9 98.6Z" fill="#fa600a"/>
<path d="M151.1 92.2L153.4 93.5L153.4 96.1L151.1 97.4L148.8 96.1L148.8 93.5Z" fill="#fa600a"/>
<path d="M154.7 92.4L157.0 93.7L157.0 96.3L154.7 97.6L152.4 96.3L152.4 93.7Z" fill="#fa600a"/>
<path d="M155.1 97.7L157.4 99.0L157.4 101.6L155.1 102.9L152.8 101.6L152.8 99.0Z" fill="#fa600a"/>
<path d="M159.7 91.7L162.0 93.0L162.0 95.6L159.7 96.9L157.4 95.6L157.4 93.0Z" fill="#fa600a"/>
<path d="M163.2 88.4L165.5 89.7L165.5 92.3L163.2 93.6L160.9 92.3L160.9 89.7Z" fill="#fa600a"/>
<path d="M169.6 80.4L171.9 81.7L171.9 84.3L169.6 85.6L167.3 84.3L167.3 81.7Z" fill="#fa600a"/>
<path d="M170.0 84.9L172.3 86.2L172.3 88.8L170.0 90.1L167.7 88.8L167.7 86.2Z" fill="#fa600a"/>
<path d="M174.6 81.0L176.9 82.3L176.9 84.9L174.6 86.2L172.3 84.9L172.3 82.3Z" fill="#fa600a"/>
<path d="M179.8 84.0L182.1 85.3L182.1 87.9L179.8 89.2L177.5 87.9L177.5 85.3Z" fill="#fa600a"/>
<path d="M182.4 79.8L184.7 81.1L184.7 83.7L182.4 85.0L180.1 83.7L180.1 81.1Z" fill="#fa600a"/>
<path d="M184.5 76.4L186.8 77.7L186.8 80.3L184.5 81.6L182.2 80.3L182.2 77.7Z" fill="#fa600a"/>
<path d="M189.5 71.9L191.8 73.2L191.8 75.8L189.5 77.1L187.2 75.8L187.2 73.2Z" fill="#fa600a"/>
<path d="M192.6 72.4L194.9 73.7L194.9 76.3L192.6 77.6L190.3 76.3L190.3 73.7Z" fill="#fa600a"/>
<path d="M195.5 70.1L197.8 71.4L197.8 74.0L195.5 75.3L193.2 74.0L193.2 71.4Z" fill="#fa600a"/>
<path d="M205.9 65.4L208.2 66.7L208.2 69.3L205.9 70.6L203.6 69.3L203.6 66.7Z" fill="#fa600a"/>
<path d="M206.5 66.3L208.8 67.6L208.8 70.3L206.5 71.6L204.2 70.3L204.2 67.6Z" fill="#fa600a"/>
<path d="M211.0 61.2L213.3 62.5L213.3 65.1L211.0 66.4L208.7 65.1L208.7 62.5Z" fill="#fa600a"/>
<path d="M216.2 59.8L218.5 61.1L218.5 63.7L216.2 65.0L213.9 63.7L213.9 61.1Z" fill="#fa600a"/>
<path d="M218.0 57.5L220.3 58.8L220.3 61.4L218.0 62.7L215.7 61.4L215.7 58.8Z" fill="#fa600a"/>
<path d="M230.7 51.5L233.0 52.8L233.0 55.4L230.7 56.7L228.4 55.4L228.4 52.8Z" fill="#fa600a"/>
<path d="M233.6 49.0L235.9 50.3L235.9 52.9L233.6 54.2L231.3 52.9L231.3 50.3Z" fill="#fa600a"/>
<path d="M241.4 47.1L243.7 48.4L243.7 51.0L241.4 52.3L239.1 51.0L239.1 48.4Z" fill="#fa600a"/>
<path d="M255.2 39.3L257.5 40.6L257.5 43.2L255.2 44.5L252.9 43.2L252.9 40.6Z" fill="#fa600a"/>
<path d="M257.1 38.9L259.4 40.2L259.4 42.8L257.1 44.1L254.8 42.8L254.8 40.2Z" fill="#fa600a"/>
<rect x="39.1" y="11.3" width="3.7" height="3.7" fill="#3a3a3a"/>
<text x="51.0" y="16.5" class="lg">NA</text>
<circle cx="41.0" cy="25.7" r="2.2" fill="#f0283a"/>
<text x="51.0" y="29.0" class="lg">RTFO<tspan dy="2.6" class="sub">NA</tspan></text>
<path d="M41.0 37.5L43.5 41.7L38.5 41.7Z" fill="#1f63f0"/>
<text x="51.0" y="43.1" class="lg">RMA</text>
<path d="M41.0 54.6L43.5 50.4L38.5 50.4Z" fill="#20a157"/>
<text x="51.0" y="55.6" class="lg">RTFO<tspan dy="2.6" class="sub">RMA</tspan></text>
<path d="M41.0 64.1L43.5 66.6L41.0 69.1L38.5 66.6Z" fill="#a968ec"/>
<text x="51.0" y="69.9" class="lg">UV<tspan dy="2.6" class="sub">R1mm-3c</tspan></text>
<path d="M97.1 13.3L101.3 10.8L101.3 15.8Z" fill="#dc9a14"/>
<text x="109.5" y="16.6" class="lg">UV<tspan dy="2.6" class="sub">R1.5mm-3c</tspan></text>
<path d="M101.7 27.7L97.5 25.2L97.5 30.2Z" fill="#14d4e2"/>
<text x="109.5" y="31.0" class="lg">UV<tspan dy="2.6" class="sub">R2mm-3c</tspan></text>
<circle cx="99.4" cy="42.2" r="2.2" fill="#6e3c3e"/>
<text x="109.5" y="45.5" class="lg">UV<tspan dy="2.6" class="sub">N1mm-3c</tspan></text>
<path d="M169.6 10.5L170.4 12.4L172.4 12.6L170.9 13.9L171.3 15.9L169.6 14.8L167.9 15.9L168.3 13.9L166.8 12.6L168.8 12.4Z" fill="#8f962c"/>
<text x="179.7" y="16.8" class="lg">UV<tspan dy="2.6" class="sub">N1.5mm-3c</tspan></text>
<path d="M169.6 25.3L171.7 26.5L171.7 28.9L169.6 30.1L167.5 28.9L167.5 26.5Z" fill="#fa600a"/>
<text x="179.7" y="31.0" class="lg">UV<tspan dy="2.6" class="sub">N2mm-3c</tspan></text>
<text x="135" y="237.2" text-anchor="middle" class="cap">(<tspan font-weight="bold">a</tspan>) 3 cycles</text>
</g>
<g transform="translate(279.2,0)">
<rect x="30.9" y="7.2" width="232.1" height="186.4" fill="none" stroke="#4a4a4a" stroke-width="1.3"/>
<line x1="30.9" y1="183.1" x2="34.1" y2="183.1" stroke="#1a1a1a" stroke-width="1"/>
<line x1="30.9" y1="172.5" x2="32.7" y2="172.5" stroke="#1a1a1a" stroke-width="0.8"/>
<line x1="30.9" y1="166.4" x2="32.7" y2="166.4" stroke="#1a1a1a" stroke-width="0.8"/>
<line x1="30.9" y1="162.0" x2="32.7" y2="162.0" stroke="#1a1a1a" stroke-width="0.8"/>
<line x1="30.9" y1="158.6" x2="32.7" y2="158.6" stroke="#1a1a1a" stroke-width="0.8"/>
<line x1="30.9" y1="155.8" x2="32.7" y2="155.8" stroke="#1a1a1a" stroke-width="0.8"/>
<line x1="30.9" y1="153.4" x2="32.7" y2="153.4" stroke="#1a1a1a" stroke-width="0.8"/>
<line x1="30.9" y1="151.4" x2="32.7" y2="151.4" stroke="#1a1a1a" stroke-width="0.8"/>
<line x1="30.9" y1="149.6" x2="32.7" y2="149.6" stroke="#1a1a1a" stroke-width="0.8"/>
<text x="26.7" y="186.6" text-anchor="end" class="tl">10<tspan dy="-3.3" class="sup">1</tspan></text>
<line x1="30.9" y1="148.0" x2="34.1" y2="148.0" stroke="#1a1a1a" stroke-width="1"/>
<line x1="30.9" y1="137.4" x2="32.7" y2="137.4" stroke="#1a1a1a" stroke-width="0.8"/>
<line x1="30.9" y1="131.3" x2="32.7" y2="131.3" stroke="#1a1a1a" stroke-width="0.8"/>
<line x1="30.9" y1="126.9" x2="32.7" y2="126.9" stroke="#1a1a1a" stroke-width="0.8"/>
<line x1="30.9" y1="123.5" x2="32.7" y2="123.5" stroke="#1a1a1a" stroke-width="0.8"/>
<line x1="30.9" y1="120.7" x2="32.7" y2="120.7" stroke="#1a1a1a" stroke-width="0.8"/>
<line x1="30.9" y1="118.3" x2="32.7" y2="118.3" stroke="#1a1a1a" stroke-width="0.8"/>
<line x1="30.9" y1="116.3" x2="32.7" y2="116.3" stroke="#1a1a1a" stroke-width="0.8"/>
<line x1="30.9" y1="114.5" x2="32.7" y2="114.5" stroke="#1a1a1a" stroke-width="0.8"/>
<text x="26.7" y="151.5" text-anchor="end" class="tl">10<tspan dy="-3.3" class="sup">2</tspan></text>
<line x1="30.9" y1="112.9" x2="34.1" y2="112.9" stroke="#1a1a1a" stroke-width="1"/>
<line x1="30.9" y1="102.3" x2="32.7" y2="102.3" stroke="#1a1a1a" stroke-width="0.8"/>
<line x1="30.9" y1="96.2" x2="32.7" y2="96.2" stroke="#1a1a1a" stroke-width="0.8"/>
<line x1="30.9" y1="91.8" x2="32.7" y2="91.8" stroke="#1a1a1a" stroke-width="0.8"/>
<line x1="30.9" y1="88.4" x2="32.7" y2="88.4" stroke="#1a1a1a" stroke-width="0.8"/>
<line x1="30.9" y1="85.6" x2="32.7" y2="85.6" stroke="#1a1a1a" stroke-width="0.8"/>
<line x1="30.9" y1="83.2" x2="32.7" y2="83.2" stroke="#1a1a1a" stroke-width="0.8"/>
<line x1="30.9" y1="81.2" x2="32.7" y2="81.2" stroke="#1a1a1a" stroke-width="0.8"/>
<line x1="30.9" y1="79.4" x2="32.7" y2="79.4" stroke="#1a1a1a" stroke-width="0.8"/>
<text x="26.7" y="116.4" text-anchor="end" class="tl">10<tspan dy="-3.3" class="sup">3</tspan></text>
<line x1="30.9" y1="77.8" x2="34.1" y2="77.8" stroke="#1a1a1a" stroke-width="1"/>
<line x1="30.9" y1="67.2" x2="32.7" y2="67.2" stroke="#1a1a1a" stroke-width="0.8"/>
<line x1="30.9" y1="61.1" x2="32.7" y2="61.1" stroke="#1a1a1a" stroke-width="0.8"/>
<line x1="30.9" y1="56.7" x2="32.7" y2="56.7" stroke="#1a1a1a" stroke-width="0.8"/>
<line x1="30.9" y1="53.3" x2="32.7" y2="53.3" stroke="#1a1a1a" stroke-width="0.8"/>
<line x1="30.9" y1="50.5" x2="32.7" y2="50.5" stroke="#1a1a1a" stroke-width="0.8"/>
<line x1="30.9" y1="48.1" x2="32.7" y2="48.1" stroke="#1a1a1a" stroke-width="0.8"/>
<line x1="30.9" y1="46.1" x2="32.7" y2="46.1" stroke="#1a1a1a" stroke-width="0.8"/>
<line x1="30.9" y1="44.3" x2="32.7" y2="44.3" stroke="#1a1a1a" stroke-width="0.8"/>
<text x="26.7" y="81.3" text-anchor="end" class="tl">10<tspan dy="-3.3" class="sup">4</tspan></text>
<line x1="30.9" y1="42.7" x2="34.1" y2="42.7" stroke="#1a1a1a" stroke-width="1"/>
<line x1="30.9" y1="32.1" x2="32.7" y2="32.1" stroke="#1a1a1a" stroke-width="0.8"/>
<line x1="30.9" y1="26.0" x2="32.7" y2="26.0" stroke="#1a1a1a" stroke-width="0.8"/>
<line x1="30.9" y1="21.6" x2="32.7" y2="21.6" stroke="#1a1a1a" stroke-width="0.8"/>
<line x1="30.9" y1="18.2" x2="32.7" y2="18.2" stroke="#1a1a1a" stroke-width="0.8"/>
<line x1="30.9" y1="15.4" x2="32.7" y2="15.4" stroke="#1a1a1a" stroke-width="0.8"/>
<line x1="30.9" y1="13.0" x2="32.7" y2="13.0" stroke="#1a1a1a" stroke-width="0.8"/>
<line x1="30.9" y1="11.0" x2="32.7" y2="11.0" stroke="#1a1a1a" stroke-width="0.8"/>
<line x1="30.9" y1="9.2" x2="32.7" y2="9.2" stroke="#1a1a1a" stroke-width="0.8"/>
<text x="26.7" y="46.2" text-anchor="end" class="tl">10<tspan dy="-3.3" class="sup">5</tspan></text>
<line x1="30.9" y1="7.6" x2="34.1" y2="7.6" stroke="#1a1a1a" stroke-width="1"/>
<text x="26.7" y="11.1" text-anchor="end" class="tl">10<tspan dy="-3.3" class="sup">6</tspan></text>
<line x1="37.2" y1="193.6" x2="37.2" y2="192.0" stroke="#1a1a1a" stroke-width="0.8"/>
<line x1="42.2" y1="193.6" x2="42.2" y2="192.0" stroke="#1a1a1a" stroke-width="0.8"/>
<line x1="46.2" y1="193.6" x2="46.2" y2="192.0" stroke="#1a1a1a" stroke-width="0.8"/>
<line x1="49.7" y1="193.6" x2="49.7" y2="192.0" stroke="#1a1a1a" stroke-width="0.8"/>
<line x1="52.6" y1="193.6" x2="52.6" y2="192.0" stroke="#1a1a1a" stroke-width="0.8"/>
<line x1="55.3" y1="193.6" x2="55.3" y2="192.0" stroke="#1a1a1a" stroke-width="0.8"/>
<line x1="57.6" y1="193.6" x2="57.6" y2="190.6" stroke="#1a1a1a" stroke-width="1"/>
<line x1="73.0" y1="193.6" x2="73.0" y2="192.0" stroke="#1a1a1a" stroke-width="0.8"/>
<line x1="82.0" y1="193.6" x2="82.0" y2="192.0" stroke="#1a1a1a" stroke-width="0.8"/>
<line x1="88.4" y1="193.6" x2="88.4" y2="192.0" stroke="#1a1a1a" stroke-width="0.8"/>
<line x1="93.4" y1="193.6" x2="93.4" y2="192.0" stroke="#1a1a1a" stroke-width="0.8"/>
<line x1="97.4" y1="193.6" x2="97.4" y2="192.0" stroke="#1a1a1a" stroke-width="0.8"/>
<line x1="100.9" y1="193.6" x2="100.9" y2="192.0" stroke="#1a1a1a" stroke-width="0.8"/>
<line x1="103.8" y1="193.6" x2="103.8" y2="192.0" stroke="#1a1a1a" stroke-width="0.8"/>
<line x1="106.5" y1="193.6" x2="106.5" y2="192.0" stroke="#1a1a1a" stroke-width="0.8"/>
<line x1="108.8" y1="193.6" x2="108.8" y2="190.6" stroke="#1a1a1a" stroke-width="1"/>
<line x1="124.2" y1="193.6" x2="124.2" y2="192.0" stroke="#1a1a1a" stroke-width="0.8"/>
<line x1="133.2" y1="193.6" x2="133.2" y2="192.0" stroke="#1a1a1a" stroke-width="0.8"/>
<line x1="139.6" y1="193.6" x2="139.6" y2="192.0" stroke="#1a1a1a" stroke-width="0.8"/>
<line x1="144.6" y1="193.6" x2="144.6" y2="192.0" stroke="#1a1a1a" stroke-width="0.8"/>
<line x1="148.6" y1="193.6" x2="148.6" y2="192.0" stroke="#1a1a1a" stroke-width="0.8"/>
<line x1="152.1" y1="193.6" x2="152.1" y2="192.0" stroke="#1a1a1a" stroke-width="0.8"/>
<line x1="155.0" y1="193.6" x2="155.0" y2="192.0" stroke="#1a1a1a" stroke-width="0.8"/>
<line x1="157.7" y1="193.6" x2="157.7" y2="192.0" stroke="#1a1a1a" stroke-width="0.8"/>
<line x1="160.0" y1="193.6" x2="160.0" y2="190.6" stroke="#1a1a1a" stroke-width="1"/>
<line x1="175.4" y1="193.6" x2="175.4" y2="192.0" stroke="#1a1a1a" stroke-width="0.8"/>
<line x1="184.4" y1="193.6" x2="184.4" y2="192.0" stroke="#1a1a1a" stroke-width="0.8"/>
<line x1="190.8" y1="193.6" x2="190.8" y2="192.0" stroke="#1a1a1a" stroke-width="0.8"/>
<line x1="195.8" y1="193.6" x2="195.8" y2="192.0" stroke="#1a1a1a" stroke-width="0.8"/>
<line x1="199.8" y1="193.6" x2="199.8" y2="192.0" stroke="#1a1a1a" stroke-width="0.8"/>
<line x1="203.3" y1="193.6" x2="203.3" y2="192.0" stroke="#1a1a1a" stroke-width="0.8"/>
<line x1="206.2" y1="193.6" x2="206.2" y2="192.0" stroke="#1a1a1a" stroke-width="0.8"/>
<line x1="208.9" y1="193.6" x2="208.9" y2="192.0" stroke="#1a1a1a" stroke-width="0.8"/>
<line x1="211.2" y1="193.6" x2="211.2" y2="190.6" stroke="#1a1a1a" stroke-width="1"/>
<line x1="226.6" y1="193.6" x2="226.6" y2="192.0" stroke="#1a1a1a" stroke-width="0.8"/>
<line x1="235.6" y1="193.6" x2="235.6" y2="192.0" stroke="#1a1a1a" stroke-width="0.8"/>
<line x1="242.0" y1="193.6" x2="242.0" y2="192.0" stroke="#1a1a1a" stroke-width="0.8"/>
<line x1="247.0" y1="193.6" x2="247.0" y2="192.0" stroke="#1a1a1a" stroke-width="0.8"/>
<line x1="251.0" y1="193.6" x2="251.0" y2="192.0" stroke="#1a1a1a" stroke-width="0.8"/>
<line x1="254.5" y1="193.6" x2="254.5" y2="192.0" stroke="#1a1a1a" stroke-width="0.8"/>
<line x1="257.4" y1="193.6" x2="257.4" y2="192.0" stroke="#1a1a1a" stroke-width="0.8"/>
<line x1="260.1" y1="193.6" x2="260.1" y2="192.0" stroke="#1a1a1a" stroke-width="0.8"/>
<line x1="262.4" y1="193.6" x2="262.4" y2="190.6" stroke="#1a1a1a" stroke-width="1"/>
<text x="57.6" y="204.2" text-anchor="middle" class="tl">0.01</text>
<text x="108.8" y="204.2" text-anchor="middle" class="tl">0.1</text>
<text x="160.0" y="204.2" text-anchor="middle" class="tl">1</text>
<text x="211.2" y="204.2" text-anchor="middle" class="tl">10</text>
<text x="262.4" y="204.2" text-anchor="middle" class="tl">100</text>
<text x="147" y="219.0" text-anchor="middle" class="al">Reduced frequency (rad/s)</text>
<text transform="translate(12.3,100.4) rotate(-90) scale(1,0.84)" text-anchor="middle" class="al">G<tspan dy="-3.2" class="sup2">*</tspan><tspan dy="3.2"> (Pa)</tspan></text>
<rect x="47.2" y="178.1" width="4.1" height="4.1" fill="#3a3a3a"/>
<rect x="66.1" y="168.1" width="4.1" height="4.1" fill="#3a3a3a"/>
<rect x="86.0" y="156.8" width="4.1" height="4.1" fill="#3a3a3a"/>
<rect x="98.1" y="143.1" width="4.1" height="4.1" fill="#3a3a3a"/>
<rect x="106.8" y="144.8" width="4.1" height="4.1" fill="#3a3a3a"/>
<rect x="108.3" y="135.9" width="4.1" height="4.1" fill="#3a3a3a"/>
<rect x="117.0" y="132.9" width="4.1" height="4.1" fill="#3a3a3a"/>
<rect x="122.6" y="126.7" width="4.1" height="4.1" fill="#3a3a3a"/>
<rect x="127.4" y="126.1" width="4.1" height="4.1" fill="#3a3a3a"/>
<rect x="129.2" y="131.6" width="4.1" height="4.1" fill="#3a3a3a"/>
<rect x="133.9" y="119.0" width="4.1" height="4.1" fill="#3a3a3a"/>
<rect x="137.1" y="121.9" width="4.1" height="4.1" fill="#3a3a3a"/>
<rect x="141.3" y="116.8" width="4.1" height="4.1" fill="#3a3a3a"/>
<rect x="147.2" y="115.1" width="4.1" height="4.1" fill="#3a3a3a"/>
<rect x="149.1" y="108.8" width="4.1" height="4.1" fill="#3a3a3a"/>
<rect x="152.7" y="109.3" width="4.1" height="4.1" fill="#3a3a3a"/>
<rect x="153.1" y="117.6" width="4.1" height="4.1" fill="#3a3a3a"/>
<rect x="157.7" y="110.0" width="4.1" height="4.1" fill="#3a3a3a"/>
<rect x="161.2" y="105.8" width="4.1" height="4.1" fill="#3a3a3a"/>
<rect x="167.6" y="99.4" width="4.1" height="4.1" fill="#3a3a3a"/>
<rect x="168.0" y="103.1" width="4.1" height="4.1" fill="#3a3a3a"/>
<rect x="172.6" y="98.3" width="4.1" height="4.1" fill="#3a3a3a"/>
<rect x="177.8" y="102.2" width="4.1" height="4.1" fill="#3a3a3a"/>
<rect x="180.4" y="97.5" width="4.1" height="4.1" fill="#3a3a3a"/>
<rect x="182.5" y="94.1" width="4.1" height="4.1" fill="#3a3a3a"/>
<rect x="187.5" y="88.5" width="4.1" height="4.1" fill="#3a3a3a"/>
<rect x="190.6" y="90.8" width="4.1" height="4.1" fill="#3a3a3a"/>
<rect x="193.5" y="86.8" width="4.1" height="4.1" fill="#3a3a3a"/>
<rect x="203.9" y="80.9" width="4.1" height="4.1" fill="#3a3a3a"/>
<rect x="204.5" y="83.9" width="4.1" height="4.1" fill="#3a3a3a"/>
<rect x="209.0" y="77.1" width="4.1" height="4.1" fill="#3a3a3a"/>
<rect x="214.2" y="77.8" width="4.1" height="4.1" fill="#3a3a3a"/>
<rect x="216.0" y="74.9" width="4.1" height="4.1" fill="#3a3a3a"/>
<rect x="228.7" y="69.0" width="4.1" height="4.1" fill="#3a3a3a"/>
<rect x="231.6" y="65.3" width="4.1" height="4.1" fill="#3a3a3a"/>
<rect x="239.4" y="62.7" width="4.1" height="4.1" fill="#3a3a3a"/>
<rect x="253.2" y="54.6" width="4.1" height="4.1" fill="#3a3a3a"/>
<rect x="255.1" y="52.5" width="4.1" height="4.1" fill="#3a3a3a"/>
<circle cx="49.2" cy="171.0" r="2.4" fill="#f0283a"/>
<circle cx="68.1" cy="159.9" r="2.4" fill="#f0283a"/>
<circle cx="88.0" cy="147.9" r="2.4" fill="#f0283a"/>
<circle cx="100.1" cy="135.1" r="2.4" fill="#f0283a"/>
<circle cx="108.8" cy="134.6" r="2.4" fill="#f0283a"/>
<circle cx="110.3" cy="128.1" r="2.4" fill="#f0283a"/>
<circle cx="119.0" cy="124.7" r="2.4" fill="#f0283a"/>
<circle cx="124.6" cy="118.8" r="2.4" fill="#f0283a"/>
<circle cx="129.4" cy="117.6" r="2.4" fill="#f0283a"/>
<circle cx="131.2" cy="121.1" r="2.4" fill="#f0283a"/>
<circle cx="135.9" cy="111.4" r="2.4" fill="#f0283a"/>
<circle cx="139.1" cy="113.3" r="2.4" fill="#f0283a"/>
<circle cx="143.3" cy="108.5" r="2.4" fill="#f0283a"/>
<circle cx="149.2" cy="106.6" r="2.4" fill="#f0283a"/>
<circle cx="151.1" cy="101.7" r="2.4" fill="#f0283a"/>
<circle cx="154.7" cy="101.1" r="2.4" fill="#f0283a"/>
<circle cx="155.1" cy="107.1" r="2.4" fill="#f0283a"/>
<circle cx="159.7" cy="101.2" r="2.4" fill="#f0283a"/>
<circle cx="163.2" cy="97.5" r="2.4" fill="#f0283a"/>
<circle cx="169.6" cy="91.0" r="2.4" fill="#f0283a"/>
<circle cx="170.0" cy="94.4" r="2.4" fill="#f0283a"/>
<circle cx="174.6" cy="90.4" r="2.4" fill="#f0283a"/>
<circle cx="179.8" cy="92.9" r="2.4" fill="#f0283a"/>
<circle cx="182.4" cy="88.7" r="2.4" fill="#f0283a"/>
<circle cx="184.5" cy="85.7" r="2.4" fill="#f0283a"/>
<circle cx="189.5" cy="81.0" r="2.4" fill="#f0283a"/>
<circle cx="192.6" cy="82.0" r="2.4" fill="#f0283a"/>
<circle cx="195.5" cy="79.0" r="2.4" fill="#f0283a"/>
<circle cx="205.9" cy="74.3" r="2.4" fill="#f0283a"/>
<circle cx="206.5" cy="75.4" r="2.4" fill="#f0283a"/>
<circle cx="211.0" cy="69.4" r="2.4" fill="#f0283a"/>
<circle cx="216.2" cy="68.9" r="2.4" fill="#f0283a"/>
<circle cx="218.0" cy="66.6" r="2.4" fill="#f0283a"/>
<circle cx="230.7" cy="61.2" r="2.4" fill="#f0283a"/>
<circle cx="233.6" cy="57.8" r="2.4" fill="#f0283a"/>
<circle cx="241.4" cy="55.5" r="2.4" fill="#f0283a"/>
<circle cx="255.2" cy="47.9" r="2.4" fill="#f0283a"/>
<circle cx="257.1" cy="45.8" r="2.4" fill="#f0283a"/>
<path d="M49.2 130.6L52.0 135.1L46.4 135.1Z" fill="#1f63f0"/>
<path d="M68.1 121.1L70.9 125.6L65.3 125.6Z" fill="#1f63f0"/>
<path d="M88.0 111.3L90.8 115.8L85.2 115.8Z" fill="#1f63f0"/>
<path d="M100.1 101.6L102.9 106.1L97.3 106.1Z" fill="#1f63f0"/>
<path d="M108.8 101.6L111.6 106.1L106.0 106.1Z" fill="#1f63f0"/>
<path d="M110.3 96.2L113.1 100.7L107.5 100.7Z" fill="#1f63f0"/>
<path d="M119.0 93.5L121.8 98.0L116.2 98.0Z" fill="#1f63f0"/>
<path d="M124.6 89.7L127.4 94.2L121.8 94.2Z" fill="#1f63f0"/>
<path d="M129.4 88.4L132.2 92.9L126.6 92.9Z" fill="#1f63f0"/>
<path d="M131.2 92.0L134.0 96.5L128.4 96.5Z" fill="#1f63f0"/>
<path d="M135.9 84.1L138.7 88.6L133.1 88.6Z" fill="#1f63f0"/>
<path d="M139.1 85.5L141.9 90.0L136.3 90.0Z" fill="#1f63f0"/>
<path d="M143.3 82.1L146.1 86.6L140.5 86.6Z" fill="#1f63f0"/>
<path d="M149.2 81.2L152.0 85.7L146.4 85.7Z" fill="#1f63f0"/>
<path d="M151.1 76.5L153.9 81.0L148.3 81.0Z" fill="#1f63f0"/>
<path d="M154.7 76.5L157.5 81.0L151.9 81.0Z" fill="#1f63f0"/>
<path d="M155.1 80.7L157.9 85.2L152.3 85.2Z" fill="#1f63f0"/>
<path d="M159.7 76.5L162.5 81.0L156.9 81.0Z" fill="#1f63f0"/>
<path d="M163.2 74.2L166.0 78.7L160.4 78.7Z" fill="#1f63f0"/>
<path d="M169.6 70.0L172.4 74.5L166.8 74.5Z" fill="#1f63f0"/>
<path d="M170.0 72.8L172.8 77.3L167.2 77.3Z" fill="#1f63f0"/>
<path d="M174.6 69.1L177.4 73.6L171.8 73.6Z" fill="#1f63f0"/>
<path d="M179.8 71.9L182.6 76.4L177.0 76.4Z" fill="#1f63f0"/>
<path d="M182.4 68.2L185.2 72.7L179.6 72.7Z" fill="#1f63f0"/>
<path d="M184.5 65.8L187.3 70.3L181.7 70.3Z" fill="#1f63f0"/>
<path d="M189.5 63.1L192.3 67.6L186.7 67.6Z" fill="#1f63f0"/>
<path d="M192.6 64.3L195.4 68.8L189.8 68.8Z" fill="#1f63f0"/>
<path d="M195.5 61.8L198.3 66.3L192.7 66.3Z" fill="#1f63f0"/>
<path d="M205.9 58.5L208.7 63.0L203.1 63.0Z" fill="#1f63f0"/>
<path d="M206.5 60.0L209.3 64.5L203.7 64.5Z" fill="#1f63f0"/>
<path d="M211.0 55.7L213.8 60.2L208.2 60.2Z" fill="#1f63f0"/>
<path d="M216.2 56.2L219.0 60.8L213.4 60.8Z" fill="#1f63f0"/>
<path d="M218.0 53.4L220.8 57.9L215.2 57.9Z" fill="#1f63f0"/>
<path d="M230.7 50.1L233.5 54.6L227.9 54.6Z" fill="#1f63f0"/>
<path d="M233.6 47.9L236.4 52.4L230.8 52.4Z" fill="#1f63f0"/>
<path d="M241.4 47.5L244.2 52.0L238.6 52.0Z" fill="#1f63f0"/>
<path d="M255.2 43.5L258.0 48.0L252.4 48.0Z" fill="#1f63f0"/>
<path d="M257.1 42.9L259.9 47.4L254.3 47.4Z" fill="#1f63f0"/>
<path d="M49.2 117.8L52.0 113.3L46.4 113.3Z" fill="#20a157"/>
<path d="M68.1 109.4L70.9 104.9L65.3 104.9Z" fill="#20a157"/>
<path d="M88.0 100.7L90.8 96.2L85.2 96.2Z" fill="#20a157"/>
<path d="M100.1 95.1L102.9 90.6L97.3 90.6Z" fill="#20a157"/>
<path d="M108.8 91.9L111.6 87.4L106.0 87.4Z" fill="#20a157"/>
<path d="M110.3 90.5L113.1 86.0L107.5 86.0Z" fill="#20a157"/>
<path d="M119.0 87.7L121.8 83.2L116.2 83.2Z" fill="#20a157"/>
<path d="M124.6 85.4L127.4 80.9L121.8 80.9Z" fill="#20a157"/>
<path d="M129.4 84.0L132.2 79.5L126.6 79.5Z" fill="#20a157"/>
<path d="M131.2 84.0L134.0 79.4L128.4 79.4Z" fill="#20a157"/>
<path d="M135.9 78.8L138.7 74.3L133.1 74.3Z" fill="#20a157"/>
<path d="M139.1 78.3L141.9 73.8L136.3 73.8Z" fill="#20a157"/>
<path d="M143.3 76.4L146.1 71.9L140.5 71.9Z" fill="#20a157"/>
<path d="M149.2 73.6L152.0 69.1L146.4 69.1Z" fill="#20a157"/>
<path d="M151.1 73.6L153.9 69.1L148.3 69.1Z" fill="#20a157"/>
<path d="M154.7 72.6L157.5 68.1L151.9 68.1Z" fill="#20a157"/>
<path d="M155.1 74.8L157.9 70.2L152.3 70.2Z" fill="#20a157"/>
<path d="M159.7 70.8L162.5 66.3L156.9 66.3Z" fill="#20a157"/>
<path d="M163.2 69.4L166.0 64.9L160.4 64.9Z" fill="#20a157"/>
<path d="M169.6 66.6L172.4 62.1L166.8 62.1Z" fill="#20a157"/>
<path d="M170.0 67.4L172.8 62.9L167.2 62.9Z" fill="#20a157"/>
<path d="M174.6 65.2L177.4 60.7L171.8 60.7Z" fill="#20a157"/>
<path d="M179.8 65.2L182.6 60.7L177.0 60.7Z" fill="#20a157"/>
<path d="M182.4 62.9L185.2 58.4L179.6 58.4Z" fill="#20a157"/>
<path d="M184.5 61.9L187.3 57.4L181.7 57.4Z" fill="#20a157"/>
<path d="M189.5 60.1L192.3 55.6L186.7 55.6Z" fill="#20a157"/>
<path d="M192.6 59.2L195.4 54.7L189.8 54.7Z" fill="#20a157"/>
<path d="M195.5 57.8L198.3 53.3L192.7 53.3Z" fill="#20a157"/>
<path d="M205.9 54.1L208.7 49.6L203.1 49.6Z" fill="#20a157"/>
<path d="M206.5 54.8L209.3 50.2L203.7 50.2Z" fill="#20a157"/>
<path d="M211.0 52.7L213.8 48.2L208.2 48.2Z" fill="#20a157"/>
<path d="M216.2 51.2L219.0 46.7L213.4 46.7Z" fill="#20a157"/>
<path d="M218.0 50.3L220.8 45.8L215.2 45.8Z" fill="#20a157"/>
<path d="M230.7 45.8L233.5 41.3L227.9 41.3Z" fill="#20a157"/>
<path d="M233.6 44.0L236.4 39.5L230.8 39.5Z" fill="#20a157"/>
<path d="M241.4 42.1L244.2 37.6L238.6 37.6Z" fill="#20a157"/>
<path d="M255.2 37.7L258.0 33.2L252.4 33.2Z" fill="#20a157"/>
<path d="M257.1 37.2L259.9 32.7L254.3 32.7Z" fill="#20a157"/>
<path d="M49.2 101.6L52.0 104.4L49.2 107.2L46.4 104.4Z" fill="#a968ec"/>
<path d="M68.1 94.1L70.9 96.9L68.1 99.6L65.3 96.9Z" fill="#a968ec"/>
<path d="M88.0 86.5L90.8 89.3L88.0 92.0L85.2 89.3Z" fill="#a968ec"/>
<path d="M100.1 81.3L102.9 84.0L100.1 86.8L97.3 84.0Z" fill="#a968ec"/>
<path d="M108.8 78.4L111.6 81.1L108.8 83.9L106.0 81.1Z" fill="#a968ec"/>
<path d="M110.3 76.8L113.1 79.5L110.3 82.3L107.5 79.5Z" fill="#a968ec"/>
<path d="M119.0 74.1L121.8 76.8L119.0 79.6L116.2 76.8Z" fill="#a968ec"/>
<path d="M124.6 72.0L127.4 74.8L124.6 77.5L121.8 74.8Z" fill="#a968ec"/>
<path d="M129.4 70.3L132.2 73.0L129.4 75.8L126.6 73.0Z" fill="#a968ec"/>
<path d="M131.2 71.2L134.0 74.0L131.2 76.8L128.4 74.0Z" fill="#a968ec"/>
<path d="M135.9 67.4L138.7 70.1L135.9 72.9L133.1 70.1Z" fill="#a968ec"/>
<path d="M139.1 66.9L141.9 69.7L139.1 72.5L136.3 69.7Z" fill="#a968ec"/>
<path d="M143.3 64.9L146.1 67.7L143.3 70.4L140.5 67.7Z" fill="#a968ec"/>
<path d="M149.2 62.8L152.0 65.6L149.2 68.4L146.4 65.6Z" fill="#a968ec"/>
<path d="M151.1 61.5L153.9 64.3L151.1 67.0L148.3 64.3Z" fill="#a968ec"/>
<path d="M154.7 60.6L157.5 63.3L154.7 66.1L151.9 63.3Z" fill="#a968ec"/>
<path d="M155.1 63.2L157.9 65.9L155.1 68.7L152.3 65.9Z" fill="#a968ec"/>
<path d="M159.7 59.8L162.5 62.6L159.7 65.3L156.9 62.6Z" fill="#a968ec"/>
<path d="M163.2 57.7L166.0 60.4L163.2 63.2L160.4 60.4Z" fill="#a968ec"/>
<path d="M169.6 55.3L172.4 58.1L169.6 60.8L166.8 58.1Z" fill="#a968ec"/>
<path d="M170.0 56.4L172.8 59.1L170.0 61.9L167.2 59.1Z" fill="#a968ec"/>
<path d="M174.6 53.9L177.4 56.6L174.6 59.4L171.8 56.6Z" fill="#a968ec"/>
<path d="M179.8 56.1L182.6 58.9L179.8 61.6L177.0 58.9Z" fill="#a968ec"/>
<path d="M182.4 54.0L185.2 56.7L182.4 59.5L179.6 56.7Z" fill="#a968ec"/>
<path d="M184.5 51.4L187.3 54.2L184.5 57.0L181.7 54.2Z" fill="#a968ec"/>
<path d="M189.5 48.6L192.3 51.4L189.5 54.1L186.7 51.4Z" fill="#a968ec"/>
<path d="M192.6 47.7L195.4 50.4L192.6 53.2L189.8 50.4Z" fill="#a968ec"/>
<path d="M195.5 46.6L198.3 49.4L195.5 52.1L192.7 49.4Z" fill="#a968ec"/>
<path d="M205.9 44.2L208.7 47.0L205.9 49.7L203.1 47.0Z" fill="#a968ec"/>
<path d="M206.5 44.7L209.3 47.4L206.5 50.2L203.7 47.4Z" fill="#a968ec"/>
<path d="M211.0 42.8L213.8 45.5L211.0 48.3L208.2 45.5Z" fill="#a968ec"/>
<path d="M216.2 41.3L219.0 44.0L216.2 46.8L213.4 44.0Z" fill="#a968ec"/>
<path d="M218.0 40.4L220.8 43.1L218.0 45.9L215.2 43.1Z" fill="#a968ec"/>
<path d="M230.7 35.4L233.5 38.2L230.7 41.0L227.9 38.2Z" fill="#a968ec"/>
<path d="M233.6 34.1L236.4 36.9L233.6 39.6L230.8 36.9Z" fill="#a968ec"/>
<path d="M241.4 32.2L244.2 35.0L241.4 37.7L238.6 35.0Z" fill="#a968ec"/>
<path d="M255.2 28.2L258.0 30.9L255.2 33.7L252.4 30.9Z" fill="#a968ec"/>
<path d="M257.1 27.7L259.9 30.4L257.1 33.2L254.3 30.4Z" fill="#a968ec"/>
<path d="M46.7 105.6L51.2 102.8L51.2 108.4Z" fill="#dc9a14"/>
<path d="M65.6 98.1L70.1 95.3L70.1 100.8Z" fill="#dc9a14"/>
<path d="M85.5 90.5L90.0 87.7L90.0 93.2Z" fill="#dc9a14"/>
<path d="M97.6 85.2L102.1 82.5L102.1 88.0Z" fill="#dc9a14"/>
<path d="M106.3 82.3L110.8 79.6L110.8 85.1Z" fill="#dc9a14"/>
<path d="M107.8 80.7L112.3 78.0L112.3 83.5Z" fill="#dc9a14"/>
<path d="M116.5 78.0L121.0 75.3L121.0 80.8Z" fill="#dc9a14"/>
<path d="M122.1 76.0L126.6 73.2L126.6 78.7Z" fill="#dc9a14"/>
<path d="M126.9 74.2L131.4 71.5L131.4 77.0Z" fill="#dc9a14"/>
<path d="M128.7 75.2L133.2 72.4L133.2 78.0Z" fill="#dc9a14"/>
<path d="M133.4 71.3L137.9 68.6L137.9 74.1Z" fill="#dc9a14"/>
<path d="M136.6 70.9L141.1 68.1L141.1 73.7Z" fill="#dc9a14"/>
<path d="M140.8 68.9L145.3 66.1L145.3 71.6Z" fill="#dc9a14"/>
<path d="M146.7 66.8L151.2 64.0L151.2 69.6Z" fill="#dc9a14"/>
<path d="M148.6 65.5L153.1 62.7L153.1 68.2Z" fill="#dc9a14"/>
<path d="M152.2 64.5L156.7 61.8L156.7 67.3Z" fill="#dc9a14"/>
<path d="M152.6 67.1L157.1 64.4L157.1 69.9Z" fill="#dc9a14"/>
<path d="M157.2 63.8L161.7 61.0L161.7 66.5Z" fill="#dc9a14"/>
<path d="M160.7 61.6L165.2 58.9L165.2 64.4Z" fill="#dc9a14"/>
<path d="M167.1 59.3L171.6 56.5L171.6 62.0Z" fill="#dc9a14"/>
<path d="M167.5 60.3L172.0 57.6L172.0 63.1Z" fill="#dc9a14"/>
<path d="M172.1 57.8L176.6 55.1L176.6 60.6Z" fill="#dc9a14"/>
<path d="M177.3 60.1L181.8 57.3L181.8 62.8Z" fill="#dc9a14"/>
<path d="M179.9 57.9L184.4 55.2L184.4 60.7Z" fill="#dc9a14"/>
<path d="M182.0 55.4L186.5 52.6L186.5 58.2Z" fill="#dc9a14"/>
<path d="M187.0 52.6L191.5 49.8L191.5 55.3Z" fill="#dc9a14"/>
<path d="M190.1 51.6L194.6 48.9L194.6 54.4Z" fill="#dc9a14"/>
<path d="M193.0 50.6L197.5 47.8L197.5 53.3Z" fill="#dc9a14"/>
<path d="M203.4 48.2L207.9 45.4L207.9 50.9Z" fill="#dc9a14"/>
<path d="M204.0 48.6L208.5 45.9L208.5 51.4Z" fill="#dc9a14"/>
<path d="M208.5 46.7L213.0 44.0L213.0 49.5Z" fill="#dc9a14"/>
<path d="M213.7 45.2L218.2 42.5L218.2 48.0Z" fill="#dc9a14"/>
<path d="M215.5 44.3L220.0 41.6L220.0 47.1Z" fill="#dc9a14"/>
<path d="M228.2 39.4L232.7 36.6L232.7 42.2Z" fill="#dc9a14"/>
<path d="M231.1 38.1L235.6 35.3L235.6 40.8Z" fill="#dc9a14"/>
<path d="M238.9 36.2L243.4 33.4L243.4 38.9Z" fill="#dc9a14"/>
<path d="M252.7 32.1L257.2 29.4L257.2 34.9Z" fill="#dc9a14"/>
<path d="M254.6 31.6L259.1 28.9L259.1 34.4Z" fill="#dc9a14"/>
<path d="M51.7 109.9L47.2 107.1L47.2 112.7Z" fill="#14d4e2"/>
<path d="M70.6 103.1L66.1 100.3L66.1 105.9Z" fill="#14d4e2"/>
<path d="M90.5 95.2L86.0 92.4L86.0 98.0Z" fill="#14d4e2"/>
<path d="M102.6 89.2L98.1 86.4L98.1 91.9Z" fill="#14d4e2"/>
<path d="M111.3 86.8L106.8 84.0L106.8 89.6Z" fill="#14d4e2"/>
<path d="M112.8 85.4L108.3 82.6L108.3 88.2Z" fill="#14d4e2"/>
<path d="M121.5 82.2L117.0 79.5L117.0 85.0Z" fill="#14d4e2"/>
<path d="M127.1 79.5L122.6 76.7L122.6 82.2Z" fill="#14d4e2"/>
<path d="M131.9 78.1L127.4 75.3L127.4 80.9Z" fill="#14d4e2"/>
<path d="M133.7 79.0L129.2 76.3L129.2 81.8Z" fill="#14d4e2"/>
<path d="M138.4 75.3L133.9 72.6L133.9 78.1Z" fill="#14d4e2"/>
<path d="M141.6 74.9L137.1 72.1L137.1 77.6Z" fill="#14d4e2"/>
<path d="M145.8 73.0L141.3 70.2L141.3 75.7Z" fill="#14d4e2"/>
<path d="M151.7 70.2L147.2 67.4L147.2 73.0Z" fill="#14d4e2"/>
<path d="M153.6 70.2L149.1 67.5L149.1 73.0Z" fill="#14d4e2"/>
<path d="M157.2 69.2L152.7 66.5L152.7 72.0Z" fill="#14d4e2"/>
<path d="M157.6 71.0L153.1 68.2L153.1 73.8Z" fill="#14d4e2"/>
<path d="M162.2 67.5L157.7 64.7L157.7 70.2Z" fill="#14d4e2"/>
<path d="M165.7 66.1L161.2 63.3L161.2 68.8Z" fill="#14d4e2"/>
<path d="M172.1 63.3L167.6 60.5L167.6 66.1Z" fill="#14d4e2"/>
<path d="M172.5 64.0L168.0 61.2L168.0 66.7Z" fill="#14d4e2"/>
<path d="M177.1 61.9L172.6 59.2L172.6 64.7Z" fill="#14d4e2"/>
<path d="M182.3 62.0L177.8 59.2L177.8 64.7Z" fill="#14d4e2"/>
<path d="M184.9 59.7L180.4 56.9L180.4 62.4Z" fill="#14d4e2"/>
<path d="M187.0 58.7L182.5 56.0L182.5 61.5Z" fill="#14d4e2"/>
<path d="M192.0 56.9L187.5 54.1L187.5 59.7Z" fill="#14d4e2"/>
<path d="M195.1 56.0L190.6 53.3L190.6 58.8Z" fill="#14d4e2"/>
<path d="M198.0 54.6L193.5 51.9L193.5 57.4Z" fill="#14d4e2"/>
<path d="M208.4 51.0L203.9 48.2L203.9 53.7Z" fill="#14d4e2"/>
<path d="M209.0 51.9L204.5 49.1L204.5 54.6Z" fill="#14d4e2"/>
<path d="M213.5 49.6L209.0 46.9L209.0 52.4Z" fill="#14d4e2"/>
<path d="M218.7 48.4L214.2 45.6L214.2 51.1Z" fill="#14d4e2"/>
<path d="M220.5 47.2L216.0 44.5L216.0 50.0Z" fill="#14d4e2"/>
<path d="M233.2 42.8L228.7 40.0L228.7 45.6Z" fill="#14d4e2"/>
<path d="M236.1 41.0L231.6 38.3L231.6 43.8Z" fill="#14d4e2"/>
<path d="M243.9 39.2L239.4 36.4L239.4 41.9Z" fill="#14d4e2"/>
<path d="M257.7 34.8L253.2 32.1L253.2 37.6Z" fill="#14d4e2"/>
<path d="M259.6 34.3L255.1 31.6L255.1 37.1Z" fill="#14d4e2"/>
<circle cx="49.2" cy="160.3" r="2.4" fill="#6e3c3e"/>
<circle cx="68.1" cy="149.2" r="2.4" fill="#6e3c3e"/>
<circle cx="88.0" cy="136.9" r="2.4" fill="#6e3c3e"/>
<circle cx="100.1" cy="124.8" r="2.4" fill="#6e3c3e"/>
<circle cx="108.8" cy="123.9" r="2.4" fill="#6e3c3e"/>
<circle cx="110.3" cy="118.3" r="2.4" fill="#6e3c3e"/>
<circle cx="119.0" cy="114.0" r="2.4" fill="#6e3c3e"/>
<circle cx="124.6" cy="108.7" r="2.4" fill="#6e3c3e"/>
<circle cx="129.4" cy="107.3" r="2.4" fill="#6e3c3e"/>
<circle cx="131.2" cy="110.3" r="2.4" fill="#6e3c3e"/>
<circle cx="135.9" cy="101.6" r="2.4" fill="#6e3c3e"/>
<circle cx="139.1" cy="102.5" r="2.4" fill="#6e3c3e"/>
<circle cx="143.3" cy="98.2" r="2.4" fill="#6e3c3e"/>
<circle cx="149.2" cy="96.6" r="2.4" fill="#6e3c3e"/>
<circle cx="151.1" cy="91.5" r="2.4" fill="#6e3c3e"/>
<circle cx="154.7" cy="91.7" r="2.4" fill="#6e3c3e"/>
<circle cx="155.1" cy="97.0" r="2.4" fill="#6e3c3e"/>
<circle cx="159.7" cy="91.0" r="2.4" fill="#6e3c3e"/>
<circle cx="163.2" cy="87.7" r="2.4" fill="#6e3c3e"/>
<circle cx="169.6" cy="79.7" r="2.4" fill="#6e3c3e"/>
<circle cx="170.0" cy="84.2" r="2.4" fill="#6e3c3e"/>
<circle cx="174.6" cy="80.3" r="2.4" fill="#6e3c3e"/>
<circle cx="179.8" cy="83.3" r="2.4" fill="#6e3c3e"/>
<circle cx="182.4" cy="79.1" r="2.4" fill="#6e3c3e"/>
<circle cx="184.5" cy="75.7" r="2.4" fill="#6e3c3e"/>
<circle cx="189.5" cy="71.2" r="2.4" fill="#6e3c3e"/>
<circle cx="192.6" cy="72.2" r="2.4" fill="#6e3c3e"/>
<circle cx="195.5" cy="68.9" r="2.4" fill="#6e3c3e"/>
<circle cx="205.9" cy="63.8" r="2.4" fill="#6e3c3e"/>
<circle cx="206.5" cy="65.3" r="2.4" fill="#6e3c3e"/>
<circle cx="211.0" cy="60.5" r="2.4" fill="#6e3c3e"/>
<circle cx="216.2" cy="58.3" r="2.4" fill="#6e3c3e"/>
<circle cx="218.0" cy="56.9" r="2.4" fill="#6e3c3e"/>
<circle cx="230.7" cy="49.2" r="2.4" fill="#6e3c3e"/>
<circle cx="233.6" cy="48.0" r="2.4" fill="#6e3c3e"/>
<circle cx="241.4" cy="44.9" r="2.4" fill="#6e3c3e"/>
<circle cx="255.2" cy="37.0" r="2.4" fill="#6e3c3e"/>
<circle cx="257.1" cy="36.6" r="2.4" fill="#6e3c3e"/>
<path d="M49.2 159.5L51.5 160.8L51.5 163.4L49.2 164.7L46.9 163.4L46.9 160.8Z" fill="#fa600a"/>
<path d="M68.1 148.4L70.4 149.7L70.4 152.3L68.1 153.6L65.8 152.3L65.8 149.7Z" fill="#fa600a"/>
<path d="M88.0 136.1L90.3 137.4L90.3 140.0L88.0 141.3L85.7 140.0L85.7 137.4Z" fill="#fa600a"/>
<path d="M100.1 124.0L102.4 125.3L102.4 127.9L100.1 129.2L97.8 127.9L97.8 125.3Z" fill="#fa600a"/>
<path d="M108.8 123.1L111.1 124.4L111.1 127.0L108.8 128.3L106.5 127.0L106.5 124.4Z" fill="#fa600a"/>
<path d="M110.3 117.5L112.6 118.8L112.6 121.4L110.3 122.7L108.0 121.4L108.0 118.8Z" fill="#fa600a"/>
<path d="M119.0 113.2L121.3 114.5L121.3 117.1L119.0 118.4L116.7 117.1L116.7 114.5Z" fill="#fa600a"/>
<path d="M124.6 107.9L126.9 109.2L126.9 111.8L124.6 113.1L122.3 111.8L122.3 109.2Z" fill="#fa600a"/>
<path d="M129.4 106.5L131.7 107.8L131.7 110.4L129.4 111.7L127.1 110.4L127.1 107.8Z" fill="#fa600a"/>
<path d="M131.2 109.5L133.5 110.8L133.5 113.4L131.2 114.7L128.9 113.4L128.9 110.8Z" fill="#fa600a"/>
<path d="M135.9 100.8L138.2 102.1L138.2 104.7L135.9 106.0L133.6 104.7L133.6 102.1Z" fill="#fa600a"/>
<path d="M139.1 101.7L141.4 103.0L141.4 105.6L139.1 106.9L136.8 105.6L136.8 103.0Z" fill="#fa600a"/>
<path d="M143.3 97.4L145.6 98.7L145.6 101.3L143.3 102.6L141.0 101.3L141.0 98.7Z" fill="#fa600a"/>
<path d="M149.2 95.8L151.5 97.1L151.5 99.7L149.2 101.0L146.9 99.7L146.9 97.1Z" fill="#fa600a"/>
<path d="M151.1 90.7L153.4 92.0L153.4 94.6L151.1 95.9L148.8 94.6L148.8 92.0Z" fill="#fa600a"/>
<path d="M154.7 90.9L157.0 92.2L157.0 94.8L154.7 96.1L152.4 94.8L152.4 92.2Z" fill="#fa600a"/>
<path d="M155.1 96.2L157.4 97.5L157.4 100.1L155.1 101.4L152.8 100.1L152.8 97.5Z" fill="#fa600a"/>
<path d="M159.7 90.2L162.0 91.5L162.0 94.1L159.7 95.4L157.4 94.1L157.4 91.5Z" fill="#fa600a"/>
<path d="M163.2 86.9L165.5 88.2L165.5 90.8L163.2 92.1L160.9 90.8L160.9 88.2Z" fill="#fa600a"/>
<path d="M169.6 78.9L171.9 80.2L171.9 82.8L169.6 84.1L167.3 82.8L167.3 80.2Z" fill="#fa600a"/>
<path d="M170.0 83.4L172.3 84.7L172.3 87.3L170.0 88.6L167.7 87.3L167.7 84.7Z" fill="#fa600a"/>
<path d="M174.6 79.5L176.9 80.8L176.9 83.4L174.6 84.7L172.3 83.4L172.3 80.8Z" fill="#fa600a"/>
<path d="M179.8 82.5L182.1 83.8L182.1 86.4L179.8 87.7L177.5 86.4L177.5 83.8Z" fill="#fa600a"/>
<path d="M182.4 78.3L184.7 79.6L184.7 82.2L182.4 83.5L180.1 82.2L180.1 79.6Z" fill="#fa600a"/>
<path d="M184.5 74.9L186.8 76.2L186.8 78.8L184.5 80.1L182.2 78.8L182.2 76.2Z" fill="#fa600a"/>
<path d="M189.5 70.4L191.8 71.7L191.8 74.3L189.5 75.6L187.2 74.3L187.2 71.7Z" fill="#fa600a"/>
<path d="M192.6 70.9L194.9 72.2L194.9 74.8L192.6 76.1L190.3 74.8L190.3 72.2Z" fill="#fa600a"/>
<path d="M195.5 68.6L197.8 69.9L197.8 72.5L195.5 73.8L193.2 72.5L193.2 69.9Z" fill="#fa600a"/>
<path d="M205.9 63.9L208.2 65.2L208.2 67.8L205.9 69.1L203.6 67.8L203.6 65.2Z" fill="#fa600a"/>
<path d="M206.5 64.8L208.8 66.1L208.8 68.8L206.5 70.1L204.2 68.8L204.2 66.1Z" fill="#fa600a"/>
<path d="M211.0 59.7L213.3 61.0L213.3 63.6L211.0 64.9L208.7 63.6L208.7 61.0Z" fill="#fa600a"/>
<path d="M216.2 58.3L218.5 59.6L218.5 62.2L216.2 63.5L213.9 62.2L213.9 59.6Z" fill="#fa600a"/>
<path d="M218.0 56.0L220.3 57.3L220.3 59.9L218.0 61.2L215.7 59.9L215.7 57.3Z" fill="#fa600a"/>
<path d="M230.7 50.0L233.0 51.3L233.0 53.9L230.7 55.2L228.4 53.9L228.4 51.3Z" fill="#fa600a"/>
<path d="M233.6 47.5L235.9 48.8L235.9 51.4L233.6 52.7L231.3 51.4L231.3 48.8Z" fill="#fa600a"/>
<path d="M241.4 45.6L243.7 46.9L243.7 49.5L241.4 50.8L239.1 49.5L239.1 46.9Z" fill="#fa600a"/>
<path d="M255.2 37.8L257.5 39.1L257.5 41.7L255.2 43.0L252.9 41.7L252.9 39.1Z" fill="#fa600a"/>
<path d="M257.1 37.4L259.4 38.7L259.4 41.3L257.1 42.6L254.8 41.3L254.8 38.7Z" fill="#fa600a"/>
<rect x="40.5" y="11.3" width="3.7" height="3.7" fill="#3a3a3a"/>
<text x="52.4" y="16.5" class="lg">NA</text>
<circle cx="42.4" cy="25.7" r="2.2" fill="#f0283a"/>
<text x="52.4" y="29.0" class="lg">RTFO<tspan dy="2.6" class="sub">NA</tspan></text>
<path d="M42.4 37.5L44.9 41.7L39.9 41.7Z" fill="#1f63f0"/>
<text x="52.4" y="43.1" class="lg">RMA</text>
<path d="M42.4 54.6L44.9 50.4L39.9 50.4Z" fill="#20a157"/>
<text x="52.4" y="55.6" class="lg">RTFO<tspan dy="2.6" class="sub">RMA</tspan></text>
<path d="M42.4 64.1L44.9 66.6L42.4 69.1L39.9 66.6Z" fill="#a968ec"/>
<text x="52.4" y="69.9" class="lg">UV<tspan dy="2.6" class="sub">R1mm-6c</tspan></text>
<path d="M97.5 13.3L101.7 10.8L101.7 15.8Z" fill="#dc9a14"/>
<text x="109.9" y="16.6" class="lg">UV<tspan dy="2.6" class="sub">R1.5mm-6c</tspan></text>
<path d="M102.1 27.7L97.9 25.2L97.9 30.2Z" fill="#14d4e2"/>
<text x="109.9" y="31.0" class="lg">UV<tspan dy="2.6" class="sub">R2mm-6c</tspan></text>
<circle cx="99.8" cy="42.2" r="2.2" fill="#6e3c3e"/>
<text x="109.9" y="45.5" class="lg">UV<tspan dy="2.6" class="sub">N1mm-6c</tspan></text>
<path d="M168.8 10.5L169.6 12.4L171.6 12.6L170.1 13.9L170.5 15.9L168.8 14.8L167.1 15.9L167.5 13.9L166.0 12.6L168.0 12.4Z" fill="#8f962c"/>
<text x="178.89999999999998" y="16.8" class="lg">UV<tspan dy="2.6" class="sub">N1.5mm-6c</tspan></text>
<path d="M168.8 25.3L170.9 26.5L170.9 28.9L168.8 30.1L166.7 28.9L166.7 26.5Z" fill="#fa600a"/>
<text x="178.89999999999998" y="31.0" class="lg">UV<tspan dy="2.6" class="sub">N2mm-6c</tspan></text>
<text x="135" y="237.2" text-anchor="middle" class="cap">(<tspan font-weight="bold">b</tspan>) 6 cycles</text>
</g>
<g transform="translate(139.6,240)">
<rect x="30.9" y="7.2" width="232.1" height="186.4" fill="none" stroke="#4a4a4a" stroke-width="1.3"/>
<line x1="30.9" y1="183.1" x2="34.1" y2="183.1" stroke="#1a1a1a" stroke-width="1"/>
<line x1="30.9" y1="172.5" x2="32.7" y2="172.5" stroke="#1a1a1a" stroke-width="0.8"/>
<line x1="30.9" y1="166.4" x2="32.7" y2="166.4" stroke="#1a1a1a" stroke-width="0.8"/>
<line x1="30.9" y1="162.0" x2="32.7" y2="162.0" stroke="#1a1a1a" stroke-width="0.8"/>
<line x1="30.9" y1="158.6" x2="32.7" y2="158.6" stroke="#1a1a1a" stroke-width="0.8"/>
<line x1="30.9" y1="155.8" x2="32.7" y2="155.8" stroke="#1a1a1a" stroke-width="0.8"/>
<line x1="30.9" y1="153.4" x2="32.7" y2="153.4" stroke="#1a1a1a" stroke-width="0.8"/>
<line x1="30.9" y1="151.4" x2="32.7" y2="151.4" stroke="#1a1a1a" stroke-width="0.8"/>
<line x1="30.9" y1="149.6" x2="32.7" y2="149.6" stroke="#1a1a1a" stroke-width="0.8"/>
<text x="26.7" y="186.6" text-anchor="end" class="tl">10<tspan dy="-3.3" class="sup">1</tspan></text>
<line x1="30.9" y1="148.0" x2="34.1" y2="148.0" stroke="#1a1a1a" stroke-width="1"/>
<line x1="30.9" y1="137.4" x2="32.7" y2="137.4" stroke="#1a1a1a" stroke-width="0.8"/>
<line x1="30.9" y1="131.3" x2="32.7" y2="131.3" stroke="#1a1a1a" stroke-width="0.8"/>
<line x1="30.9" y1="126.9" x2="32.7" y2="126.9" stroke="#1a1a1a" stroke-width="0.8"/>
<line x1="30.9" y1="123.5" x2="32.7" y2="123.5" stroke="#1a1a1a" stroke-width="0.8"/>
<line x1="30.9" y1="120.7" x2="32.7" y2="120.7" stroke="#1a1a1a" stroke-width="0.8"/>
<line x1="30.9" y1="118.3" x2="32.7" y2="118.3" stroke="#1a1a1a" stroke-width="0.8"/>
<line x1="30.9" y1="116.3" x2="32.7" y2="116.3" stroke="#1a1a1a" stroke-width="0.8"/>
<line x1="30.9" y1="114.5" x2="32.7" y2="114.5" stroke="#1a1a1a" stroke-width="0.8"/>
<text x="26.7" y="151.5" text-anchor="end" class="tl">10<tspan dy="-3.3" class="sup">2</tspan></text>
<line x1="30.9" y1="112.9" x2="34.1" y2="112.9" stroke="#1a1a1a" stroke-width="1"/>
<line x1="30.9" y1="102.3" x2="32.7" y2="102.3" stroke="#1a1a1a" stroke-width="0.8"/>
<line x1="30.9" y1="96.2" x2="32.7" y2="96.2" stroke="#1a1a1a" stroke-width="0.8"/>
<line x1="30.9" y1="91.8" x2="32.7" y2="91.8" stroke="#1a1a1a" stroke-width="0.8"/>
<line x1="30.9" y1="88.4" x2="32.7" y2="88.4" stroke="#1a1a1a" stroke-width="0.8"/>
<line x1="30.9" y1="85.6" x2="32.7" y2="85.6" stroke="#1a1a1a" stroke-width="0.8"/>
<line x1="30.9" y1="83.2" x2="32.7" y2="83.2" stroke="#1a1a1a" stroke-width="0.8"/>
<line x1="30.9" y1="81.2" x2="32.7" y2="81.2" stroke="#1a1a1a" stroke-width="0.8"/>
<line x1="30.9" y1="79.4" x2="32.7" y2="79.4" stroke="#1a1a1a" stroke-width="0.8"/>
<text x="26.7" y="116.4" text-anchor="end" class="tl">10<tspan dy="-3.3" class="sup">3</tspan></text>
<line x1="30.9" y1="77.8" x2="34.1" y2="77.8" stroke="#1a1a1a" stroke-width="1"/>
<line x1="30.9" y1="67.2" x2="32.7" y2="67.2" stroke="#1a1a1a" stroke-width="0.8"/>
<line x1="30.9" y1="61.1" x2="32.7" y2="61.1" stroke="#1a1a1a" stroke-width="0.8"/>
<line x1="30.9" y1="56.7" x2="32.7" y2="56.7" stroke="#1a1a1a" stroke-width="0.8"/>
<line x1="30.9" y1="53.3" x2="32.7" y2="53.3" stroke="#1a1a1a" stroke-width="0.8"/>
<line x1="30.9" y1="50.5" x2="32.7" y2="50.5" stroke="#1a1a1a" stroke-width="0.8"/>
<line x1="30.9" y1="48.1" x2="32.7" y2="48.1" stroke="#1a1a1a" stroke-width="0.8"/>
<line x1="30.9" y1="46.1" x2="32.7" y2="46.1" stroke="#1a1a1a" stroke-width="0.8"/>
<line x1="30.9" y1="44.3" x2="32.7" y2="44.3" stroke="#1a1a1a" stroke-width="0.8"/>
<text x="26.7" y="81.3" text-anchor="end" class="tl">10<tspan dy="-3.3" class="sup">4</tspan></text>
<line x1="30.9" y1="42.7" x2="34.1" y2="42.7" stroke="#1a1a1a" stroke-width="1"/>
<line x1="30.9" y1="32.1" x2="32.7" y2="32.1" stroke="#1a1a1a" stroke-width="0.8"/>
<line x1="30.9" y1="26.0" x2="32.7" y2="26.0" stroke="#1a1a1a" stroke-width="0.8"/>
<line x1="30.9" y1="21.6" x2="32.7" y2="21.6" stroke="#1a1a1a" stroke-width="0.8"/>
<line x1="30.9" y1="18.2" x2="32.7" y2="18.2" stroke="#1a1a1a" stroke-width="0.8"/>
<line x1="30.9" y1="15.4" x2="32.7" y2="15.4" stroke="#1a1a1a" stroke-width="0.8"/>
<line x1="30.9" y1="13.0" x2="32.7" y2="13.0" stroke="#1a1a1a" stroke-width="0.8"/>
<line x1="30.9" y1="11.0" x2="32.7" y2="11.0" stroke="#1a1a1a" stroke-width="0.8"/>
<line x1="30.9" y1="9.2" x2="32.7" y2="9.2" stroke="#1a1a1a" stroke-width="0.8"/>
<text x="26.7" y="46.2" text-anchor="end" class="tl">10<tspan dy="-3.3" class="sup">5</tspan></text>
<line x1="30.9" y1="7.6" x2="34.1" y2="7.6" stroke="#1a1a1a" stroke-width="1"/>
<text x="26.7" y="11.1" text-anchor="end" class="tl">10<tspan dy="-3.3" class="sup">6</tspan></text>
<line x1="37.2" y1="193.6" x2="37.2" y2="192.0" stroke="#1a1a1a" stroke-width="0.8"/>
<line x1="42.2" y1="193.6" x2="42.2" y2="192.0" stroke="#1a1a1a" stroke-width="0.8"/>
<line x1="46.2" y1="193.6" x2="46.2" y2="192.0" stroke="#1a1a1a" stroke-width="0.8"/>
<line x1="49.7" y1="193.6" x2="49.7" y2="192.0" stroke="#1a1a1a" stroke-width="0.8"/>
<line x1="52.6" y1="193.6" x2="52.6" y2="192.0" stroke="#1a1a1a" stroke-width="0.8"/>
<line x1="55.3" y1="193.6" x2="55.3" y2="192.0" stroke="#1a1a1a" stroke-width="0.8"/>
<line x1="57.6" y1="193.6" x2="57.6" y2="190.6" stroke="#1a1a1a" stroke-width="1"/>
<line x1="73.0" y1="193.6" x2="73.0" y2="192.0" stroke="#1a1a1a" stroke-width="0.8"/>
<line x1="82.0" y1="193.6" x2="82.0" y2="192.0" stroke="#1a1a1a" stroke-width="0.8"/>
<line x1="88.4" y1="193.6" x2="88.4" y2="192.0" stroke="#1a1a1a" stroke-width="0.8"/>
<line x1="93.4" y1="193.6" x2="93.4" y2="192.0" stroke="#1a1a1a" stroke-width="0.8"/>
<line x1="97.4" y1="193.6" x2="97.4" y2="192.0" stroke="#1a1a1a" stroke-width="0.8"/>
<line x1="100.9" y1="193.6" x2="100.9" y2="192.0" stroke="#1a1a1a" stroke-width="0.8"/>
<line x1="103.8" y1="193.6" x2="103.8" y2="192.0" stroke="#1a1a1a" stroke-width="0.8"/>
<line x1="106.5" y1="193.6" x2="106.5" y2="192.0" stroke="#1a1a1a" stroke-width="0.8"/>
<line x1="108.8" y1="193.6" x2="108.8" y2="190.6" stroke="#1a1a1a" stroke-width="1"/>
<line x1="124.2" y1="193.6" x2="124.2" y2="192.0" stroke="#1a1a1a" stroke-width="0.8"/>
<line x1="133.2" y1="193.6" x2="133.2" y2="192.0" stroke="#1a1a1a" stroke-width="0.8"/>
<line x1="139.6" y1="193.6" x2="139.6" y2="192.0" stroke="#1a1a1a" stroke-width="0.8"/>
<line x1="144.6" y1="193.6" x2="144.6" y2="192.0" stroke="#1a1a1a" stroke-width="0.8"/>
<line x1="148.6" y1="193.6" x2="148.6" y2="192.0" stroke="#1a1a1a" stroke-width="0.8"/>
<line x1="152.1" y1="193.6" x2="152.1" y2="192.0" stroke="#1a1a1a" stroke-width="0.8"/>
<line x1="155.0" y1="193.6" x2="155.0" y2="192.0" stroke="#1a1a1a" stroke-width="0.8"/>
<line x1="157.7" y1="193.6" x2="157.7" y2="192.0" stroke="#1a1a1a" stroke-width="0.8"/>
<line x1="160.0" y1="193.6" x2="160.0" y2="190.6" stroke="#1a1a1a" stroke-width="1"/>
<line x1="175.4" y1="193.6" x2="175.4" y2="192.0" stroke="#1a1a1a" stroke-width="0.8"/>
<line x1="184.4" y1="193.6" x2="184.4" y2="192.0" stroke="#1a1a1a" stroke-width="0.8"/>
<line x1="190.8" y1="193.6" x2="190.8" y2="192.0" stroke="#1a1a1a" stroke-width="0.8"/>
<line x1="195.8" y1="193.6" x2="195.8" y2="192.0" stroke="#1a1a1a" stroke-width="0.8"/>
<line x1="199.8" y1="193.6" x2="199.8" y2="192.0" stroke="#1a1a1a" stroke-width="0.8"/>
<line x1="203.3" y1="193.6" x2="203.3" y2="192.0" stroke="#1a1a1a" stroke-width="0.8"/>
<line x1="206.2" y1="193.6" x2="206.2" y2="192.0" stroke="#1a1a1a" stroke-width="0.8"/>
<line x1="208.9" y1="193.6" x2="208.9" y2="192.0" stroke="#1a1a1a" stroke-width="0.8"/>
<line x1="211.2" y1="193.6" x2="211.2" y2="190.6" stroke="#1a1a1a" stroke-width="1"/>
<line x1="226.6" y1="193.6" x2="226.6" y2="192.0" stroke="#1a1a1a" stroke-width="0.8"/>
<line x1="235.6" y1="193.6" x2="235.6" y2="192.0" stroke="#1a1a1a" stroke-width="0.8"/>
<line x1="242.0" y1="193.6" x2="242.0" y2="192.0" stroke="#1a1a1a" stroke-width="0.8"/>
<line x1="247.0" y1="193.6" x2="247.0" y2="192.0" stroke="#1a1a1a" stroke-width="0.8"/>
<line x1="251.0" y1="193.6" x2="251.0" y2="192.0" stroke="#1a1a1a" stroke-width="0.8"/>
<line x1="254.5" y1="193.6" x2="254.5" y2="192.0" stroke="#1a1a1a" stroke-width="0.8"/>
<line x1="257.4" y1="193.6" x2="257.4" y2="192.0" stroke="#1a1a1a" stroke-width="0.8"/>
<line x1="260.1" y1="193.6" x2="260.1" y2="192.0" stroke="#1a1a1a" stroke-width="0.8"/>
<line x1="262.4" y1="193.6" x2="262.4" y2="190.6" stroke="#1a1a1a" stroke-width="1"/>
<text x="57.6" y="204.2" text-anchor="middle" class="tl">0.01</text>
<text x="108.8" y="204.2" text-anchor="middle" class="tl">0.1</text>
<text x="160.0" y="204.2" text-anchor="middle" class="tl">1</text>
<text x="211.2" y="204.2" text-anchor="middle" class="tl">10</text>
<text x="262.4" y="204.2" text-anchor="middle" class="tl">100</text>
<text x="147" y="219.0" text-anchor="middle" class="al">Reduced frequency (rad/s)</text>
<text transform="translate(12.3,100.4) rotate(-90) scale(1,0.84)" text-anchor="middle" class="al">G<tspan dy="-3.2" class="sup2">*</tspan><tspan dy="3.2"> (Pa)</tspan></text>
<rect x="47.2" y="178.1" width="4.1" height="4.1" fill="#3a3a3a"/>
<rect x="66.1" y="168.1" width="4.1" height="4.1" fill="#3a3a3a"/>
<rect x="86.0" y="156.8" width="4.1" height="4.1" fill="#3a3a3a"/>
<rect x="98.1" y="143.1" width="4.1" height="4.1" fill="#3a3a3a"/>
<rect x="106.8" y="144.8" width="4.1" height="4.1" fill="#3a3a3a"/>
<rect x="108.3" y="135.9" width="4.1" height="4.1" fill="#3a3a3a"/>
<rect x="117.0" y="132.9" width="4.1" height="4.1" fill="#3a3a3a"/>
<rect x="122.6" y="126.7" width="4.1" height="4.1" fill="#3a3a3a"/>
<rect x="127.4" y="126.1" width="4.1" height="4.1" fill="#3a3a3a"/>
<rect x="129.2" y="131.6" width="4.1" height="4.1" fill="#3a3a3a"/>
<rect x="133.9" y="119.0" width="4.1" height="4.1" fill="#3a3a3a"/>
<rect x="137.1" y="121.9" width="4.1" height="4.1" fill="#3a3a3a"/>
<rect x="141.3" y="116.8" width="4.1" height="4.1" fill="#3a3a3a"/>
<rect x="147.2" y="115.1" width="4.1" height="4.1" fill="#3a3a3a"/>
<rect x="149.1" y="108.8" width="4.1" height="4.1" fill="#3a3a3a"/>
<rect x="152.7" y="109.3" width="4.1" height="4.1" fill="#3a3a3a"/>
<rect x="153.1" y="117.6" width="4.1" height="4.1" fill="#3a3a3a"/>
<rect x="157.7" y="110.0" width="4.1" height="4.1" fill="#3a3a3a"/>
<rect x="161.2" y="105.8" width="4.1" height="4.1" fill="#3a3a3a"/>
<rect x="167.6" y="99.4" width="4.1" height="4.1" fill="#3a3a3a"/>
<rect x="168.0" y="103.1" width="4.1" height="4.1" fill="#3a3a3a"/>
<rect x="172.6" y="98.3" width="4.1" height="4.1" fill="#3a3a3a"/>
<rect x="177.8" y="102.2" width="4.1" height="4.1" fill="#3a3a3a"/>
<rect x="180.4" y="97.5" width="4.1" height="4.1" fill="#3a3a3a"/>
<rect x="182.5" y="94.1" width="4.1" height="4.1" fill="#3a3a3a"/>
<rect x="187.5" y="88.5" width="4.1" height="4.1" fill="#3a3a3a"/>
<rect x="190.6" y="90.8" width="4.1" height="4.1" fill="#3a3a3a"/>
<rect x="193.5" y="86.8" width="4.1" height="4.1" fill="#3a3a3a"/>
<rect x="203.9" y="80.9" width="4.1" height="4.1" fill="#3a3a3a"/>
<rect x="204.5" y="83.9" width="4.1" height="4.1" fill="#3a3a3a"/>
<rect x="209.0" y="77.1" width="4.1" height="4.1" fill="#3a3a3a"/>
<rect x="214.2" y="77.8" width="4.1" height="4.1" fill="#3a3a3a"/>
<rect x="216.0" y="74.9" width="4.1" height="4.1" fill="#3a3a3a"/>
<rect x="228.7" y="69.0" width="4.1" height="4.1" fill="#3a3a3a"/>
<rect x="231.6" y="65.3" width="4.1" height="4.1" fill="#3a3a3a"/>
<rect x="239.4" y="62.7" width="4.1" height="4.1" fill="#3a3a3a"/>
<rect x="253.2" y="54.6" width="4.1" height="4.1" fill="#3a3a3a"/>
<rect x="255.1" y="52.5" width="4.1" height="4.1" fill="#3a3a3a"/>
<circle cx="49.2" cy="171.0" r="2.4" fill="#f0283a"/>
<circle cx="68.1" cy="159.9" r="2.4" fill="#f0283a"/>
<circle cx="88.0" cy="147.9" r="2.4" fill="#f0283a"/>
<circle cx="100.1" cy="135.1" r="2.4" fill="#f0283a"/>
<circle cx="108.8" cy="134.6" r="2.4" fill="#f0283a"/>
<circle cx="110.3" cy="128.1" r="2.4" fill="#f0283a"/>
<circle cx="119.0" cy="124.7" r="2.4" fill="#f0283a"/>
<circle cx="124.6" cy="118.8" r="2.4" fill="#f0283a"/>
<circle cx="129.4" cy="117.6" r="2.4" fill="#f0283a"/>
<circle cx="131.2" cy="121.1" r="2.4" fill="#f0283a"/>
<circle cx="135.9" cy="111.4" r="2.4" fill="#f0283a"/>
<circle cx="139.1" cy="113.3" r="2.4" fill="#f0283a"/>
<circle cx="143.3" cy="108.5" r="2.4" fill="#f0283a"/>
<circle cx="149.2" cy="106.6" r="2.4" fill="#f0283a"/>
<circle cx="151.1" cy="101.7" r="2.4" fill="#f0283a"/>
<circle cx="154.7" cy="101.1" r="2.4" fill="#f0283a"/>
<circle cx="155.1" cy="107.1" r="2.4" fill="#f0283a"/>
<circle cx="159.7" cy="101.2" r="2.4" fill="#f0283a"/>
<circle cx="163.2" cy="97.5" r="2.4" fill="#f0283a"/>
<circle cx="169.6" cy="91.0" r="2.4" fill="#f0283a"/>
<circle cx="170.0" cy="94.4" r="2.4" fill="#f0283a"/>
<circle cx="174.6" cy="90.4" r="2.4" fill="#f0283a"/>
<circle cx="179.8" cy="92.9" r="2.4" fill="#f0283a"/>
<circle cx="182.4" cy="88.7" r="2.4" fill="#f0283a"/>
<circle cx="184.5" cy="85.7" r="2.4" fill="#f0283a"/>
<circle cx="189.5" cy="81.0" r="2.4" fill="#f0283a"/>
<circle cx="192.6" cy="82.0" r="2.4" fill="#f0283a"/>
<circle cx="195.5" cy="79.0" r="2.4" fill="#f0283a"/>
<circle cx="205.9" cy="74.3" r="2.4" fill="#f0283a"/>
<circle cx="206.5" cy="75.4" r="2.4" fill="#f0283a"/>
<circle cx="211.0" cy="69.4" r="2.4" fill="#f0283a"/>
<circle cx="216.2" cy="68.9" r="2.4" fill="#f0283a"/>
<circle cx="218.0" cy="66.6" r="2.4" fill="#f0283a"/>
<circle cx="230.7" cy="61.2" r="2.4" fill="#f0283a"/>
<circle cx="233.6" cy="57.8" r="2.4" fill="#f0283a"/>
<circle cx="241.4" cy="55.5" r="2.4" fill="#f0283a"/>
<circle cx="255.2" cy="47.9" r="2.4" fill="#f0283a"/>
<circle cx="257.1" cy="45.8" r="2.4" fill="#f0283a"/>
<path d="M49.2 130.6L52.0 135.1L46.4 135.1Z" fill="#1f63f0"/>
<path d="M68.1 121.1L70.9 125.6L65.3 125.6Z" fill="#1f63f0"/>
<path d="M88.0 111.3L90.8 115.8L85.2 115.8Z" fill="#1f63f0"/>
<path d="M100.1 101.6L102.9 106.1L97.3 106.1Z" fill="#1f63f0"/>
<path d="M108.8 101.6L111.6 106.1L106.0 106.1Z" fill="#1f63f0"/>
<path d="M110.3 96.2L113.1 100.7L107.5 100.7Z" fill="#1f63f0"/>
<path d="M119.0 93.5L121.8 98.0L116.2 98.0Z" fill="#1f63f0"/>
<path d="M124.6 89.7L127.4 94.2L121.8 94.2Z" fill="#1f63f0"/>
<path d="M129.4 88.4L132.2 92.9L126.6 92.9Z" fill="#1f63f0"/>
<path d="M131.2 92.0L134.0 96.5L128.4 96.5Z" fill="#1f63f0"/>
<path d="M135.9 84.1L138.7 88.6L133.1 88.6Z" fill="#1f63f0"/>
<path d="M139.1 85.5L141.9 90.0L136.3 90.0Z" fill="#1f63f0"/>
<path d="M143.3 82.1L146.1 86.6L140.5 86.6Z" fill="#1f63f0"/>
<path d="M149.2 81.2L152.0 85.7L146.4 85.7Z" fill="#1f63f0"/>
<path d="M151.1 76.5L153.9 81.0L148.3 81.0Z" fill="#1f63f0"/>
<path d="M154.7 76.5L157.5 81.0L151.9 81.0Z" fill="#1f63f0"/>
<path d="M155.1 80.7L157.9 85.2L152.3 85.2Z" fill="#1f63f0"/>
<path d="M159.7 76.5L162.5 81.0L156.9 81.0Z" fill="#1f63f0"/>
<path d="M163.2 74.2L166.0 78.7L160.4 78.7Z" fill="#1f63f0"/>
<path d="M169.6 70.0L172.4 74.5L166.8 74.5Z" fill="#1f63f0"/>
<path d="M170.0 72.8L172.8 77.3L167.2 77.3Z" fill="#1f63f0"/>
<path d="M174.6 69.1L177.4 73.6L171.8 73.6Z" fill="#1f63f0"/>
<path d="M179.8 71.9L182.6 76.4L177.0 76.4Z" fill="#1f63f0"/>
<path d="M182.4 68.2L185.2 72.7L179.6 72.7Z" fill="#1f63f0"/>
<path d="M184.5 65.8L187.3 70.3L181.7 70.3Z" fill="#1f63f0"/>
<path d="M189.5 63.1L192.3 67.6L186.7 67.6Z" fill="#1f63f0"/>
<path d="M192.6 64.3L195.4 68.8L189.8 68.8Z" fill="#1f63f0"/>
<path d="M195.5 61.8L198.3 66.3L192.7 66.3Z" fill="#1f63f0"/>
<path d="M205.9 58.5L208.7 63.0L203.1 63.0Z" fill="#1f63f0"/>
<path d="M206.5 60.0L209.3 64.5L203.7 64.5Z" fill="#1f63f0"/>
<path d="M211.0 55.7L213.8 60.2L208.2 60.2Z" fill="#1f63f0"/>
<path d="M216.2 56.2L219.0 60.8L213.4 60.8Z" fill="#1f63f0"/>
<path d="M218.0 53.4L220.8 57.9L215.2 57.9Z" fill="#1f63f0"/>
<path d="M230.7 50.1L233.5 54.6L227.9 54.6Z" fill="#1f63f0"/>
<path d="M233.6 47.9L236.4 52.4L230.8 52.4Z" fill="#1f63f0"/>
<path d="M241.4 47.5L244.2 52.0L238.6 52.0Z" fill="#1f63f0"/>
<path d="M255.2 43.5L258.0 48.0L252.4 48.0Z" fill="#1f63f0"/>
<path d="M257.1 42.9L259.9 47.4L254.3 47.4Z" fill="#1f63f0"/>
<path d="M49.2 117.8L52.0 113.3L46.4 113.3Z" fill="#20a157"/>
<path d="M68.1 109.4L70.9 104.9L65.3 104.9Z" fill="#20a157"/>
<path d="M88.0 100.7L90.8 96.2L85.2 96.2Z" fill="#20a157"/>
<path d="M100.1 95.1L102.9 90.6L97.3 90.6Z" fill="#20a157"/>
<path d="M108.8 91.9L111.6 87.4L106.0 87.4Z" fill="#20a157"/>
<path d="M110.3 90.5L113.1 86.0L107.5 86.0Z" fill="#20a157"/>
<path d="M119.0 87.7L121.8 83.2L116.2 83.2Z" fill="#20a157"/>
<path d="M124.6 85.4L127.4 80.9L121.8 80.9Z" fill="#20a157"/>
<path d="M129.4 84.0L132.2 79.5L126.6 79.5Z" fill="#20a157"/>
<path d="M131.2 84.0L134.0 79.4L128.4 79.4Z" fill="#20a157"/>
<path d="M135.9 78.8L138.7 74.3L133.1 74.3Z" fill="#20a157"/>
<path d="M139.1 78.3L141.9 73.8L136.3 73.8Z" fill="#20a157"/>
<path d="M143.3 76.4L146.1 71.9L140.5 71.9Z" fill="#20a157"/>
<path d="M149.2 73.6L152.0 69.1L146.4 69.1Z" fill="#20a157"/>
<path d="M151.1 73.6L153.9 69.1L148.3 69.1Z" fill="#20a157"/>
<path d="M154.7 72.6L157.5 68.1L151.9 68.1Z" fill="#20a157"/>
<path d="M155.1 74.8L157.9 70.2L152.3 70.2Z" fill="#20a157"/>
<path d="M159.7 70.8L162.5 66.3L156.9 66.3Z" fill="#20a157"/>
<path d="M163.2 69.4L166.0 64.9L160.4 64.9Z" fill="#20a157"/>
<path d="M169.6 66.6L172.4 62.1L166.8 62.1Z" fill="#20a157"/>
<path d="M170.0 67.4L172.8 62.9L167.2 62.9Z" fill="#20a157"/>
<path d="M174.6 65.2L177.4 60.7L171.8 60.7Z" fill="#20a157"/>
<path d="M179.8 65.2L182.6 60.7L177.0 60.7Z" fill="#20a157"/>
<path d="M182.4 62.9L185.2 58.4L179.6 58.4Z" fill="#20a157"/>
<path d="M184.5 61.9L187.3 57.4L181.7 57.4Z" fill="#20a157"/>
<path d="M189.5 60.1L192.3 55.6L186.7 55.6Z" fill="#20a157"/>
<path d="M192.6 59.2L195.4 54.7L189.8 54.7Z" fill="#20a157"/>
<path d="M195.5 57.8L198.3 53.3L192.7 53.3Z" fill="#20a157"/>
<path d="M205.9 54.1L208.7 49.6L203.1 49.6Z" fill="#20a157"/>
<path d="M206.5 54.8L209.3 50.2L203.7 50.2Z" fill="#20a157"/>
<path d="M211.0 52.7L213.8 48.2L208.2 48.2Z" fill="#20a157"/>
<path d="M216.2 51.2L219.0 46.7L213.4 46.7Z" fill="#20a157"/>
<path d="M218.0 50.3L220.8 45.8L215.2 45.8Z" fill="#20a157"/>
<path d="M230.7 45.8L233.5 41.3L227.9 41.3Z" fill="#20a157"/>
<path d="M233.6 44.0L236.4 39.5L230.8 39.5Z" fill="#20a157"/>
<path d="M241.4 42.1L244.2 37.6L238.6 37.6Z" fill="#20a157"/>
<path d="M255.2 37.7L258.0 33.2L252.4 33.2Z" fill="#20a157"/>
<path d="M257.1 37.2L259.9 32.7L254.3 32.7Z" fill="#20a157"/>
<path d="M49.2 104.9L52.0 107.7L49.2 110.5L46.4 107.7Z" fill="#a968ec"/>
<path d="M68.1 97.2L70.9 99.9L68.1 102.7L65.3 99.9Z" fill="#a968ec"/>
<path d="M88.0 89.2L90.8 92.0L88.0 94.8L85.2 92.0Z" fill="#a968ec"/>
<path d="M100.1 83.8L102.9 86.6L100.1 89.4L97.3 86.6Z" fill="#a968ec"/>
<path d="M108.8 80.7L111.6 83.5L108.8 86.2L106.0 83.5Z" fill="#a968ec"/>
<path d="M110.3 79.0L113.1 81.8L110.3 84.6L107.5 81.8Z" fill="#a968ec"/>
<path d="M119.0 76.1L121.8 78.8L119.0 81.6L116.2 78.8Z" fill="#a968ec"/>
<path d="M124.6 73.9L127.4 76.6L124.6 79.4L121.8 76.6Z" fill="#a968ec"/>
<path d="M129.4 72.0L132.2 74.7L129.4 77.5L126.6 74.7Z" fill="#a968ec"/>
<path d="M131.2 72.9L134.0 75.7L131.2 78.4L128.4 75.7Z" fill="#a968ec"/>
<path d="M135.9 68.9L138.7 71.7L135.9 74.4L133.1 71.7Z" fill="#a968ec"/>
<path d="M139.1 68.4L141.9 71.2L139.1 73.9L136.3 71.2Z" fill="#a968ec"/>
<path d="M143.3 66.2L146.1 69.0L143.3 71.7L140.5 69.0Z" fill="#a968ec"/>
<path d="M149.2 63.5L152.0 66.3L149.2 69.1L146.4 66.3Z" fill="#a968ec"/>
<path d="M151.1 62.0L153.9 64.8L151.1 67.6L148.3 64.8Z" fill="#a968ec"/>
<path d="M154.7 60.7L157.5 63.5L154.7 66.3L151.9 63.5Z" fill="#a968ec"/>
<path d="M155.1 63.3L157.9 66.1L155.1 68.8L152.3 66.1Z" fill="#a968ec"/>
<path d="M159.7 59.5L162.5 62.2L159.7 65.0L156.9 62.2Z" fill="#a968ec"/>
<path d="M163.2 57.3L166.0 60.1L163.2 62.9L160.4 60.1Z" fill="#a968ec"/>
<path d="M169.6 55.0L172.4 57.8L169.6 60.5L166.8 57.8Z" fill="#a968ec"/>
<path d="M170.0 56.1L172.8 58.8L170.0 61.6L167.2 58.8Z" fill="#a968ec"/>
<path d="M174.6 53.6L177.4 56.4L174.6 59.1L171.8 56.4Z" fill="#a968ec"/>
<path d="M179.8 51.9L182.6 54.7L179.8 57.4L177.0 54.7Z" fill="#a968ec"/>
<path d="M182.4 53.8L185.2 56.5L182.4 59.3L179.6 56.5Z" fill="#a968ec"/>
<path d="M184.5 51.3L187.3 54.0L184.5 56.8L181.7 54.0Z" fill="#a968ec"/>
<path d="M189.5 48.5L192.3 51.2L189.5 54.0L186.7 51.2Z" fill="#a968ec"/>
<path d="M192.6 47.6L195.4 50.3L192.6 53.1L189.8 50.3Z" fill="#a968ec"/>
<path d="M195.5 46.6L198.3 49.3L195.5 52.1L192.7 49.3Z" fill="#a968ec"/>
<path d="M205.9 43.4L208.7 46.1L205.9 48.9L203.1 46.1Z" fill="#a968ec"/>
<path d="M206.5 43.7L209.3 46.5L206.5 49.2L203.7 46.5Z" fill="#a968ec"/>
<path d="M211.0 41.3L213.8 44.1L211.0 46.8L208.2 44.1Z" fill="#a968ec"/>
<path d="M216.2 39.8L219.0 42.5L216.2 45.3L213.4 42.5Z" fill="#a968ec"/>
<path d="M218.0 38.9L220.8 41.6L218.0 44.4L215.2 41.6Z" fill="#a968ec"/>
<path d="M230.7 33.8L233.5 36.5L230.7 39.3L227.9 36.5Z" fill="#a968ec"/>
<path d="M233.6 32.4L236.4 35.2L233.6 37.9L230.8 35.2Z" fill="#a968ec"/>
<path d="M241.4 30.5L244.2 33.2L241.4 36.0L238.6 33.2Z" fill="#a968ec"/>
<path d="M255.2 26.3L258.0 29.0L255.2 31.8L252.4 29.0Z" fill="#a968ec"/>
<path d="M257.1 25.7L259.9 28.5L257.1 31.3L254.3 28.5Z" fill="#a968ec"/>
<path d="M46.7 106.9L51.2 104.1L51.2 109.7Z" fill="#dc9a14"/>
<path d="M65.6 100.2L70.1 97.5L70.1 103.0Z" fill="#dc9a14"/>
<path d="M85.5 92.5L90.0 89.7L90.0 95.2Z" fill="#dc9a14"/>
<path d="M97.6 86.5L102.1 83.7L102.1 89.3Z" fill="#dc9a14"/>
<path d="M106.3 84.1L110.8 81.3L110.8 86.8Z" fill="#dc9a14"/>
<path d="M107.8 82.7L112.3 79.9L112.3 85.4Z" fill="#dc9a14"/>
<path d="M116.5 79.4L121.0 76.7L121.0 82.2Z" fill="#dc9a14"/>
<path d="M122.1 76.6L126.6 73.9L126.6 79.4Z" fill="#dc9a14"/>
<path d="M126.9 75.2L131.4 72.4L131.4 78.0Z" fill="#dc9a14"/>
<path d="M128.7 76.1L133.2 73.3L133.2 78.9Z" fill="#dc9a14"/>
<path d="M133.4 72.4L137.9 69.6L137.9 75.1Z" fill="#dc9a14"/>
<path d="M136.6 71.9L141.1 69.1L141.1 74.6Z" fill="#dc9a14"/>
<path d="M140.8 70.0L145.3 67.2L145.3 72.7Z" fill="#dc9a14"/>
<path d="M146.7 67.1L151.2 64.4L151.2 69.9Z" fill="#dc9a14"/>
<path d="M148.6 67.1L153.1 64.4L153.1 69.9Z" fill="#dc9a14"/>
<path d="M152.2 66.1L156.7 63.4L156.7 68.9Z" fill="#dc9a14"/>
<path d="M152.6 67.9L157.1 65.1L157.1 70.6Z" fill="#dc9a14"/>
<path d="M157.2 64.3L161.7 61.5L161.7 67.1Z" fill="#dc9a14"/>
<path d="M160.7 63.1L165.2 60.3L165.2 65.8Z" fill="#dc9a14"/>
<path d="M167.1 60.6L171.6 57.8L171.6 63.3Z" fill="#dc9a14"/>
<path d="M167.5 61.3L172.0 58.5L172.0 64.0Z" fill="#dc9a14"/>
<path d="M172.1 59.4L176.6 56.6L176.6 62.2Z" fill="#dc9a14"/>
<path d="M177.3 59.7L181.8 56.9L181.8 62.4Z" fill="#dc9a14"/>
<path d="M179.9 57.5L184.4 54.7L184.4 60.2Z" fill="#dc9a14"/>
<path d="M182.0 56.7L186.5 53.9L186.5 59.4Z" fill="#dc9a14"/>
<path d="M187.0 55.0L191.5 52.3L191.5 57.8Z" fill="#dc9a14"/>
<path d="M190.1 54.3L194.6 51.5L194.6 57.0Z" fill="#dc9a14"/>
<path d="M193.0 53.0L197.5 50.2L197.5 55.8Z" fill="#dc9a14"/>
<path d="M203.4 49.5L207.9 46.7L207.9 52.2Z" fill="#dc9a14"/>
<path d="M204.0 50.4L208.5 47.6L208.5 53.1Z" fill="#dc9a14"/>
<path d="M208.5 48.2L213.0 45.4L213.0 50.9Z" fill="#dc9a14"/>
<path d="M213.7 47.0L218.2 44.2L218.2 49.7Z" fill="#dc9a14"/>
<path d="M215.5 45.9L220.0 43.1L220.0 48.6Z" fill="#dc9a14"/>
<path d="M228.2 41.6L232.7 38.8L232.7 44.3Z" fill="#dc9a14"/>
<path d="M231.1 39.8L235.6 37.1L235.6 42.6Z" fill="#dc9a14"/>
<path d="M238.9 38.1L243.4 35.3L243.4 40.8Z" fill="#dc9a14"/>
<path d="M252.7 33.9L257.2 31.1L257.2 36.6Z" fill="#dc9a14"/>
<path d="M254.6 33.4L259.1 30.6L259.1 36.2Z" fill="#dc9a14"/>
<path d="M51.7 106.3L47.2 103.5L47.2 109.1Z" fill="#14d4e2"/>
<path d="M70.6 99.6L66.1 96.9L66.1 102.4Z" fill="#14d4e2"/>
<path d="M90.5 91.9L86.0 89.1L86.0 94.6Z" fill="#14d4e2"/>
<path d="M102.6 85.9L98.1 83.1L98.1 88.7Z" fill="#14d4e2"/>
<path d="M111.3 83.5L106.8 80.7L106.8 86.2Z" fill="#14d4e2"/>
<path d="M112.8 82.1L108.3 79.3L108.3 84.8Z" fill="#14d4e2"/>
<path d="M121.5 78.8L117.0 76.1L117.0 81.6Z" fill="#14d4e2"/>
<path d="M127.1 76.0L122.6 73.3L122.6 78.8Z" fill="#14d4e2"/>
<path d="M131.9 74.6L127.4 71.8L127.4 77.4Z" fill="#14d4e2"/>
<path d="M133.7 75.5L129.2 72.7L129.2 78.3Z" fill="#14d4e2"/>
<path d="M138.4 71.8L133.9 69.0L133.9 74.5Z" fill="#14d4e2"/>
<path d="M141.6 71.3L137.1 68.5L137.1 74.0Z" fill="#14d4e2"/>
<path d="M145.8 69.4L141.3 66.6L141.3 72.1Z" fill="#14d4e2"/>
<path d="M151.7 66.5L147.2 63.8L147.2 69.3Z" fill="#14d4e2"/>
<path d="M153.6 66.5L149.1 63.8L149.1 69.3Z" fill="#14d4e2"/>
<path d="M157.2 65.5L152.7 62.8L152.7 68.3Z" fill="#14d4e2"/>
<path d="M157.6 67.3L153.1 64.5L153.1 70.0Z" fill="#14d4e2"/>
<path d="M162.2 63.7L157.7 60.9L157.7 66.5Z" fill="#14d4e2"/>
<path d="M165.7 62.5L161.2 59.7L161.2 65.2Z" fill="#14d4e2"/>
<path d="M172.1 60.0L167.6 57.2L167.6 62.7Z" fill="#14d4e2"/>
<path d="M172.5 60.7L168.0 57.9L168.0 63.4Z" fill="#14d4e2"/>
<path d="M177.1 58.8L172.6 56.0L172.6 61.6Z" fill="#14d4e2"/>
<path d="M182.3 59.1L177.8 56.3L177.8 61.8Z" fill="#14d4e2"/>
<path d="M184.9 56.9L180.4 54.1L180.4 59.6Z" fill="#14d4e2"/>
<path d="M187.0 56.1L182.5 53.3L182.5 58.8Z" fill="#14d4e2"/>
<path d="M192.0 54.4L187.5 51.7L187.5 57.2Z" fill="#14d4e2"/>
<path d="M195.1 53.7L190.6 50.9L190.6 56.4Z" fill="#14d4e2"/>
<path d="M198.0 52.4L193.5 49.6L193.5 55.2Z" fill="#14d4e2"/>
<path d="M208.4 48.9L203.9 46.1L203.9 51.6Z" fill="#14d4e2"/>
<path d="M209.0 49.8L204.5 47.0L204.5 52.5Z" fill="#14d4e2"/>
<path d="M213.5 47.6L209.0 44.8L209.0 50.3Z" fill="#14d4e2"/>
<path d="M218.7 46.4L214.2 43.6L214.2 49.1Z" fill="#14d4e2"/>
<path d="M220.5 45.3L216.0 42.5L216.0 48.0Z" fill="#14d4e2"/>
<path d="M233.2 41.0L228.7 38.2L228.7 43.7Z" fill="#14d4e2"/>
<path d="M236.1 39.2L231.6 36.5L231.6 42.0Z" fill="#14d4e2"/>
<path d="M243.9 37.5L239.4 34.7L239.4 40.2Z" fill="#14d4e2"/>
<path d="M257.7 33.3L253.2 30.5L253.2 36.0Z" fill="#14d4e2"/>
<path d="M259.6 32.8L255.1 30.0L255.1 35.6Z" fill="#14d4e2"/>
<circle cx="49.2" cy="158.3" r="2.4" fill="#6e3c3e"/>
<circle cx="68.1" cy="147.3" r="2.4" fill="#6e3c3e"/>
<circle cx="88.0" cy="135.1" r="2.4" fill="#6e3c3e"/>
<circle cx="100.1" cy="123.1" r="2.4" fill="#6e3c3e"/>
<circle cx="108.8" cy="122.2" r="2.4" fill="#6e3c3e"/>
<circle cx="110.3" cy="116.6" r="2.4" fill="#6e3c3e"/>
<circle cx="119.0" cy="112.3" r="2.4" fill="#6e3c3e"/>
<circle cx="124.6" cy="107.1" r="2.4" fill="#6e3c3e"/>
<circle cx="129.4" cy="105.7" r="2.4" fill="#6e3c3e"/>
<circle cx="131.2" cy="108.7" r="2.4" fill="#6e3c3e"/>
<circle cx="135.9" cy="100.0" r="2.4" fill="#6e3c3e"/>
<circle cx="139.1" cy="101.0" r="2.4" fill="#6e3c3e"/>
<circle cx="143.3" cy="96.7" r="2.4" fill="#6e3c3e"/>
<circle cx="149.2" cy="95.1" r="2.4" fill="#6e3c3e"/>
<circle cx="151.1" cy="90.0" r="2.4" fill="#6e3c3e"/>
<circle cx="154.7" cy="90.2" r="2.4" fill="#6e3c3e"/>
<circle cx="155.1" cy="95.5" r="2.4" fill="#6e3c3e"/>
<circle cx="159.7" cy="89.6" r="2.4" fill="#6e3c3e"/>
<circle cx="163.2" cy="86.3" r="2.4" fill="#6e3c3e"/>
<circle cx="169.6" cy="78.3" r="2.4" fill="#6e3c3e"/>
<circle cx="170.0" cy="82.8" r="2.4" fill="#6e3c3e"/>
<circle cx="174.6" cy="78.9" r="2.4" fill="#6e3c3e"/>
<circle cx="179.8" cy="82.0" r="2.4" fill="#6e3c3e"/>
<circle cx="182.4" cy="77.8" r="2.4" fill="#6e3c3e"/>
<circle cx="184.5" cy="74.4" r="2.4" fill="#6e3c3e"/>
<circle cx="189.5" cy="69.9" r="2.4" fill="#6e3c3e"/>
<circle cx="192.6" cy="71.0" r="2.4" fill="#6e3c3e"/>
<circle cx="195.5" cy="67.6" r="2.4" fill="#6e3c3e"/>
<circle cx="205.9" cy="62.6" r="2.4" fill="#6e3c3e"/>
<circle cx="206.5" cy="64.1" r="2.4" fill="#6e3c3e"/>
<circle cx="211.0" cy="59.3" r="2.4" fill="#6e3c3e"/>
<circle cx="216.2" cy="57.1" r="2.4" fill="#6e3c3e"/>
<circle cx="218.0" cy="55.7" r="2.4" fill="#6e3c3e"/>
<circle cx="230.7" cy="48.1" r="2.4" fill="#6e3c3e"/>
<circle cx="233.6" cy="46.9" r="2.4" fill="#6e3c3e"/>
<circle cx="241.4" cy="43.9" r="2.4" fill="#6e3c3e"/>
<circle cx="255.2" cy="36.0" r="2.4" fill="#6e3c3e"/>
<circle cx="257.1" cy="35.6" r="2.4" fill="#6e3c3e"/>
<path d="M49.2 155.9L49.8 157.4L51.5 157.6L50.2 158.6L50.6 160.2L49.2 159.4L47.8 160.2L48.2 158.6L46.9 157.6L48.6 157.4Z" fill="#8f962c"/>
<path d="M68.1 144.9L68.7 146.4L70.4 146.6L69.1 147.6L69.5 149.2L68.1 148.4L66.7 149.2L67.1 147.6L65.8 146.6L67.5 146.4Z" fill="#8f962c"/>
<path d="M88.0 132.7L88.6 134.2L90.3 134.4L89.0 135.4L89.4 137.0L88.0 136.2L86.6 137.0L87.0 135.4L85.7 134.4L87.4 134.2Z" fill="#8f962c"/>
<path d="M100.1 120.7L100.7 122.2L102.4 122.3L101.1 123.4L101.5 125.0L100.1 124.1L98.7 125.0L99.1 123.4L97.8 122.3L99.5 122.2Z" fill="#8f962c"/>
<path d="M108.8 119.8L109.4 121.3L111.1 121.5L109.8 122.5L110.2 124.1L108.8 123.3L107.4 124.1L107.8 122.5L106.5 121.5L108.2 121.3Z" fill="#8f962c"/>
<path d="M110.3 114.2L110.9 115.7L112.6 115.9L111.3 116.9L111.7 118.5L110.3 117.7L108.9 118.5L109.3 116.9L108.0 115.9L109.7 115.7Z" fill="#8f962c"/>
<path d="M119.0 109.9L119.6 111.5L121.3 111.6L120.0 112.7L120.4 114.3L119.0 113.4L117.6 114.3L118.0 112.7L116.7 111.6L118.4 111.5Z" fill="#8f962c"/>
<path d="M124.6 104.7L125.2 106.2L126.9 106.3L125.6 107.4L126.0 109.0L124.6 108.2L123.2 109.0L123.6 107.4L122.3 106.3L124.0 106.2Z" fill="#8f962c"/>
<path d="M129.4 103.3L130.0 104.8L131.7 105.0L130.4 106.0L130.8 107.6L129.4 106.8L128.0 107.6L128.4 106.0L127.1 105.0L128.8 104.8Z" fill="#8f962c"/>
<path d="M131.2 106.3L131.8 107.8L133.5 108.0L132.2 109.0L132.6 110.7L131.2 109.8L129.8 110.7L130.2 109.0L128.9 108.0L130.6 107.8Z" fill="#8f962c"/>
<path d="M135.9 97.6L136.5 99.2L138.2 99.3L136.9 100.4L137.3 102.0L135.9 101.1L134.5 102.0L134.9 100.4L133.6 99.3L135.3 99.2Z" fill="#8f962c"/>
<path d="M139.1 98.6L139.7 100.1L141.4 100.2L140.1 101.3L140.5 102.9L139.1 102.0L137.7 102.9L138.1 101.3L136.8 100.2L138.5 100.1Z" fill="#8f962c"/>
<path d="M143.3 94.3L143.9 95.8L145.6 95.9L144.3 97.0L144.7 98.6L143.3 97.8L141.9 98.6L142.3 97.0L141.0 95.9L142.7 95.8Z" fill="#8f962c"/>
<path d="M149.2 92.7L149.8 94.2L151.5 94.4L150.2 95.4L150.6 97.0L149.2 96.2L147.8 97.0L148.2 95.4L146.9 94.4L148.6 94.2Z" fill="#8f962c"/>
<path d="M151.1 87.6L151.7 89.1L153.4 89.3L152.1 90.3L152.5 92.0L151.1 91.1L149.7 92.0L150.1 90.3L148.8 89.3L150.5 89.1Z" fill="#8f962c"/>
<path d="M154.7 87.8L155.3 89.4L157.0 89.5L155.7 90.6L156.1 92.2L154.7 91.3L153.3 92.2L153.7 90.6L152.4 89.5L154.1 89.4Z" fill="#8f962c"/>
<path d="M155.1 93.1L155.7 94.7L157.4 94.8L156.1 95.9L156.5 97.5L155.1 96.6L153.7 97.5L154.1 95.9L152.8 94.8L154.5 94.7Z" fill="#8f962c"/>
<path d="M159.7 87.2L160.3 88.7L162.0 88.8L160.7 89.9L161.1 91.5L159.7 90.6L158.3 91.5L158.7 89.9L157.4 88.8L159.1 88.7Z" fill="#8f962c"/>
<path d="M163.2 83.9L163.8 85.4L165.5 85.5L164.2 86.6L164.6 88.2L163.2 87.4L161.8 88.2L162.2 86.6L160.9 85.5L162.6 85.4Z" fill="#8f962c"/>
<path d="M169.6 75.9L170.2 77.4L171.9 77.6L170.6 78.6L171.0 80.2L169.6 79.4L168.2 80.2L168.6 78.6L167.3 77.6L169.0 77.4Z" fill="#8f962c"/>
<path d="M170.0 80.4L170.6 81.9L172.3 82.1L171.0 83.1L171.4 84.7L170.0 83.9L168.6 84.7L169.0 83.1L167.7 82.1L169.4 81.9Z" fill="#8f962c"/>
<path d="M174.6 76.5L175.2 78.1L176.9 78.2L175.6 79.3L176.0 80.9L174.6 80.0L173.2 80.9L173.6 79.3L172.3 78.2L174.0 78.1Z" fill="#8f962c"/>
<path d="M179.8 79.6L180.4 81.1L182.1 81.2L180.8 82.3L181.2 83.9L179.8 83.0L178.4 83.9L178.8 82.3L177.5 81.2L179.2 81.1Z" fill="#8f962c"/>
<path d="M182.4 75.4L183.0 76.9L184.7 77.0L183.4 78.1L183.8 79.7L182.4 78.8L181.0 79.7L181.4 78.1L180.1 77.0L181.8 76.9Z" fill="#8f962c"/>
<path d="M184.5 72.0L185.1 73.5L186.8 73.6L185.5 74.7L185.9 76.3L184.5 75.5L183.1 76.3L183.5 74.7L182.2 73.6L183.9 73.5Z" fill="#8f962c"/>
<path d="M189.5 67.5L190.1 69.0L191.8 69.2L190.5 70.2L190.9 71.8L189.5 71.0L188.1 71.8L188.5 70.2L187.2 69.2L188.9 69.0Z" fill="#8f962c"/>
<path d="M192.6 68.6L193.2 70.1L194.9 70.2L193.6 71.3L194.0 72.9L192.6 72.0L191.2 72.9L191.6 71.3L190.3 70.2L192.0 70.1Z" fill="#8f962c"/>
<path d="M195.5 65.2L196.1 66.8L197.8 66.9L196.5 68.0L196.9 69.6L195.5 68.7L194.1 69.6L194.5 68.0L193.2 66.9L194.9 66.8Z" fill="#8f962c"/>
<path d="M205.9 60.2L206.5 61.7L208.2 61.8L206.9 62.9L207.3 64.5L205.9 63.7L204.5 64.5L204.9 62.9L203.6 61.8L205.3 61.7Z" fill="#8f962c"/>
<path d="M206.5 61.7L207.1 63.3L208.8 63.4L207.5 64.5L207.9 66.1L206.5 65.2L205.1 66.1L205.5 64.5L204.2 63.4L205.9 63.3Z" fill="#8f962c"/>
<path d="M211.0 56.9L211.6 58.4L213.3 58.6L212.0 59.6L212.4 61.3L211.0 60.4L209.6 61.3L210.0 59.6L208.7 58.6L210.4 58.4Z" fill="#8f962c"/>
<path d="M216.2 54.7L216.8 56.3L218.5 56.4L217.2 57.5L217.6 59.1L216.2 58.2L214.8 59.1L215.2 57.5L213.9 56.4L215.6 56.3Z" fill="#8f962c"/>
<path d="M218.0 53.3L218.6 54.9L220.3 55.0L219.0 56.1L219.4 57.7L218.0 56.8L216.6 57.7L217.0 56.1L215.7 55.0L217.4 54.9Z" fill="#8f962c"/>
<path d="M230.7 45.7L231.3 47.2L233.0 47.4L231.7 48.4L232.1 50.1L230.7 49.2L229.3 50.1L229.7 48.4L228.4 47.4L230.1 47.2Z" fill="#8f962c"/>
<path d="M233.6 44.5L234.2 46.0L235.9 46.2L234.6 47.3L235.0 48.9L233.6 48.0L232.2 48.9L232.6 47.3L231.3 46.2L233.0 46.0Z" fill="#8f962c"/>
<path d="M241.4 41.5L242.0 43.0L243.7 43.1L242.4 44.2L242.8 45.8L241.4 44.9L240.0 45.8L240.4 44.2L239.1 43.1L240.8 43.0Z" fill="#8f962c"/>
<path d="M255.2 33.6L255.8 35.2L257.5 35.3L256.2 36.4L256.6 38.0L255.2 37.1L253.8 38.0L254.2 36.4L252.9 35.3L254.6 35.2Z" fill="#8f962c"/>
<path d="M257.1 33.2L257.7 34.8L259.4 34.9L258.1 36.0L258.5 37.6L257.1 36.7L255.7 37.6L256.1 36.0L254.8 34.9L256.5 34.8Z" fill="#8f962c"/>
<path d="M49.2 159.7L51.5 161.0L51.5 163.6L49.2 164.9L46.9 163.6L46.9 161.0Z" fill="#fa600a"/>
<path d="M68.1 148.6L70.4 149.9L70.4 152.5L68.1 153.8L65.8 152.5L65.8 149.9Z" fill="#fa600a"/>
<path d="M88.0 136.3L90.3 137.6L90.3 140.2L88.0 141.5L85.7 140.2L85.7 137.6Z" fill="#fa600a"/>
<path d="M100.1 124.2L102.4 125.5L102.4 128.1L100.1 129.4L97.8 128.1L97.8 125.5Z" fill="#fa600a"/>
<path d="M108.8 123.3L111.1 124.6L111.1 127.2L108.8 128.5L106.5 127.2L106.5 124.6Z" fill="#fa600a"/>
<path d="M110.3 117.7L112.6 119.0L112.6 121.6L110.3 122.9L108.0 121.6L108.0 119.0Z" fill="#fa600a"/>
<path d="M119.0 113.4L121.3 114.7L121.3 117.3L119.0 118.6L116.7 117.3L116.7 114.7Z" fill="#fa600a"/>
<path d="M124.6 108.1L126.9 109.4L126.9 112.0L124.6 113.3L122.3 112.0L122.3 109.4Z" fill="#fa600a"/>
<path d="M129.4 106.7L131.7 108.0L131.7 110.6L129.4 111.9L127.1 110.6L127.1 108.0Z" fill="#fa600a"/>
<path d="M131.2 109.7L133.5 111.0L133.5 113.6L131.2 114.9L128.9 113.6L128.9 111.0Z" fill="#fa600a"/>
<path d="M135.9 101.0L138.2 102.3L138.2 104.9L135.9 106.2L133.6 104.9L133.6 102.3Z" fill="#fa600a"/>
<path d="M139.1 101.9L141.4 103.2L141.4 105.8L139.1 107.1L136.8 105.8L136.8 103.2Z" fill="#fa600a"/>
<path d="M143.3 97.6L145.6 98.9L145.6 101.5L143.3 102.8L141.0 101.5L141.0 98.9Z" fill="#fa600a"/>
<path d="M149.2 96.0L151.5 97.3L151.5 99.9L149.2 101.2L146.9 99.9L146.9 97.3Z" fill="#fa600a"/>
<path d="M151.1 90.9L153.4 92.2L153.4 94.8L151.1 96.1L148.8 94.8L148.8 92.2Z" fill="#fa600a"/>
<path d="M154.7 91.1L157.0 92.4L157.0 95.0L154.7 96.3L152.4 95.0L152.4 92.4Z" fill="#fa600a"/>
<path d="M155.1 96.4L157.4 97.7L157.4 100.3L155.1 101.6L152.8 100.3L152.8 97.7Z" fill="#fa600a"/>
<path d="M159.7 90.4L162.0 91.7L162.0 94.3L159.7 95.6L157.4 94.3L157.4 91.7Z" fill="#fa600a"/>
<path d="M163.2 87.1L165.5 88.4L165.5 91.0L163.2 92.3L160.9 91.0L160.9 88.4Z" fill="#fa600a"/>
<path d="M169.6 79.1L171.9 80.4L171.9 83.0L169.6 84.3L167.3 83.0L167.3 80.4Z" fill="#fa600a"/>
<path d="M170.0 83.6L172.3 84.9L172.3 87.5L170.0 88.8L167.7 87.5L167.7 84.9Z" fill="#fa600a"/>
<path d="M174.6 79.7L176.9 81.0L176.9 83.6L174.6 84.9L172.3 83.6L172.3 81.0Z" fill="#fa600a"/>
<path d="M179.8 82.7L182.1 84.0L182.1 86.6L179.8 87.9L177.5 86.6L177.5 84.0Z" fill="#fa600a"/>
<path d="M182.4 78.5L184.7 79.8L184.7 82.4L182.4 83.7L180.1 82.4L180.1 79.8Z" fill="#fa600a"/>
<path d="M184.5 75.1L186.8 76.4L186.8 79.0L184.5 80.3L182.2 79.0L182.2 76.4Z" fill="#fa600a"/>
<path d="M189.5 70.6L191.8 71.9L191.8 74.5L189.5 75.8L187.2 74.5L187.2 71.9Z" fill="#fa600a"/>
<path d="M192.6 71.1L194.9 72.4L194.9 75.0L192.6 76.3L190.3 75.0L190.3 72.4Z" fill="#fa600a"/>
<path d="M195.5 68.8L197.8 70.1L197.8 72.7L195.5 74.0L193.2 72.7L193.2 70.1Z" fill="#fa600a"/>
<path d="M205.9 64.1L208.2 65.4L208.2 68.0L205.9 69.3L203.6 68.0L203.6 65.4Z" fill="#fa600a"/>
<path d="M206.5 65.0L208.8 66.3L208.8 69.0L206.5 70.3L204.2 69.0L204.2 66.3Z" fill="#fa600a"/>
<path d="M211.0 59.9L213.3 61.2L213.3 63.8L211.0 65.1L208.7 63.8L208.7 61.2Z" fill="#fa600a"/>
<path d="M216.2 58.5L218.5 59.8L218.5 62.4L216.2 63.7L213.9 62.4L213.9 59.8Z" fill="#fa600a"/>
<path d="M218.0 56.2L220.3 57.5L220.3 60.1L218.0 61.4L215.7 60.1L215.7 57.5Z" fill="#fa600a"/>
<path d="M230.7 50.2L233.0 51.5L233.0 54.1L230.7 55.4L228.4 54.1L228.4 51.5Z" fill="#fa600a"/>
<path d="M233.6 47.7L235.9 49.0L235.9 51.6L233.6 52.9L231.3 51.6L231.3 49.0Z" fill="#fa600a"/>
<path d="M241.4 45.8L243.7 47.1L243.7 49.7L241.4 51.0L239.1 49.7L239.1 47.1Z" fill="#fa600a"/>
<path d="M255.2 38.0L257.5 39.3L257.5 41.9L255.2 43.2L252.9 41.9L252.9 39.3Z" fill="#fa600a"/>
<path d="M257.1 37.6L259.4 38.9L259.4 41.5L257.1 42.8L254.8 41.5L254.8 38.9Z" fill="#fa600a"/>
<rect x="42.0" y="11.3" width="3.7" height="3.7" fill="#3a3a3a"/>
<text x="53.9" y="16.5" class="lg">NA</text>
<circle cx="43.9" cy="27.1" r="2.2" fill="#f0283a"/>
<text x="53.9" y="30.4" class="lg">RTFO<tspan dy="2.6" class="sub">NA</tspan></text>
<path d="M43.9 38.9L46.4 43.1L41.4 43.1Z" fill="#1f63f0"/>
<text x="53.9" y="44.5" class="lg">RMA</text>
<path d="M43.9 56.4L46.4 52.2L41.4 52.2Z" fill="#20a157"/>
<text x="53.9" y="57.4" class="lg">RTFO<tspan dy="2.6" class="sub">RMA</tspan></text>
<path d="M43.9 65.3L46.4 67.8L43.9 70.3L41.4 67.8Z" fill="#a968ec"/>
<text x="53.9" y="71.1" class="lg">UV<tspan dy="2.6" class="sub">R1mm-9c</tspan></text>
<path d="M98.3 13.3L102.5 10.8L102.5 15.8Z" fill="#dc9a14"/>
<text x="110.7" y="16.6" class="lg">UV<tspan dy="2.6" class="sub">R1.5mm-9c</tspan></text>
<path d="M102.9 27.7L98.7 25.2L98.7 30.2Z" fill="#14d4e2"/>
<text x="110.7" y="31.0" class="lg">UV<tspan dy="2.6" class="sub">R2mm-9c</tspan></text>
<circle cx="100.6" cy="42.2" r="2.2" fill="#6e3c3e"/>
<text x="110.7" y="45.5" class="lg">UV<tspan dy="2.6" class="sub">N1mm-9c</tspan></text>
<path d="M169.4 10.5L170.2 12.4L172.2 12.6L170.7 13.9L171.1 15.9L169.4 14.8L167.7 15.9L168.1 13.9L166.6 12.6L168.6 12.4Z" fill="#8f962c"/>
<text x="179.5" y="16.8" class="lg">UV<tspan dy="2.6" class="sub">N1.5mm-9c</tspan></text>
<path d="M169.4 25.3L171.5 26.5L171.5 28.9L169.4 30.1L167.3 28.9L167.3 26.5Z" fill="#fa600a"/>
<text x="179.5" y="31.0" class="lg">UV<tspan dy="2.6" class="sub">N2mm-9c</tspan></text>
<text x="135" y="237.2" text-anchor="middle" class="cap">(<tspan font-weight="bold">c</tspan>) 9 cycles</text>
</g>
</svg>
</body></html>
